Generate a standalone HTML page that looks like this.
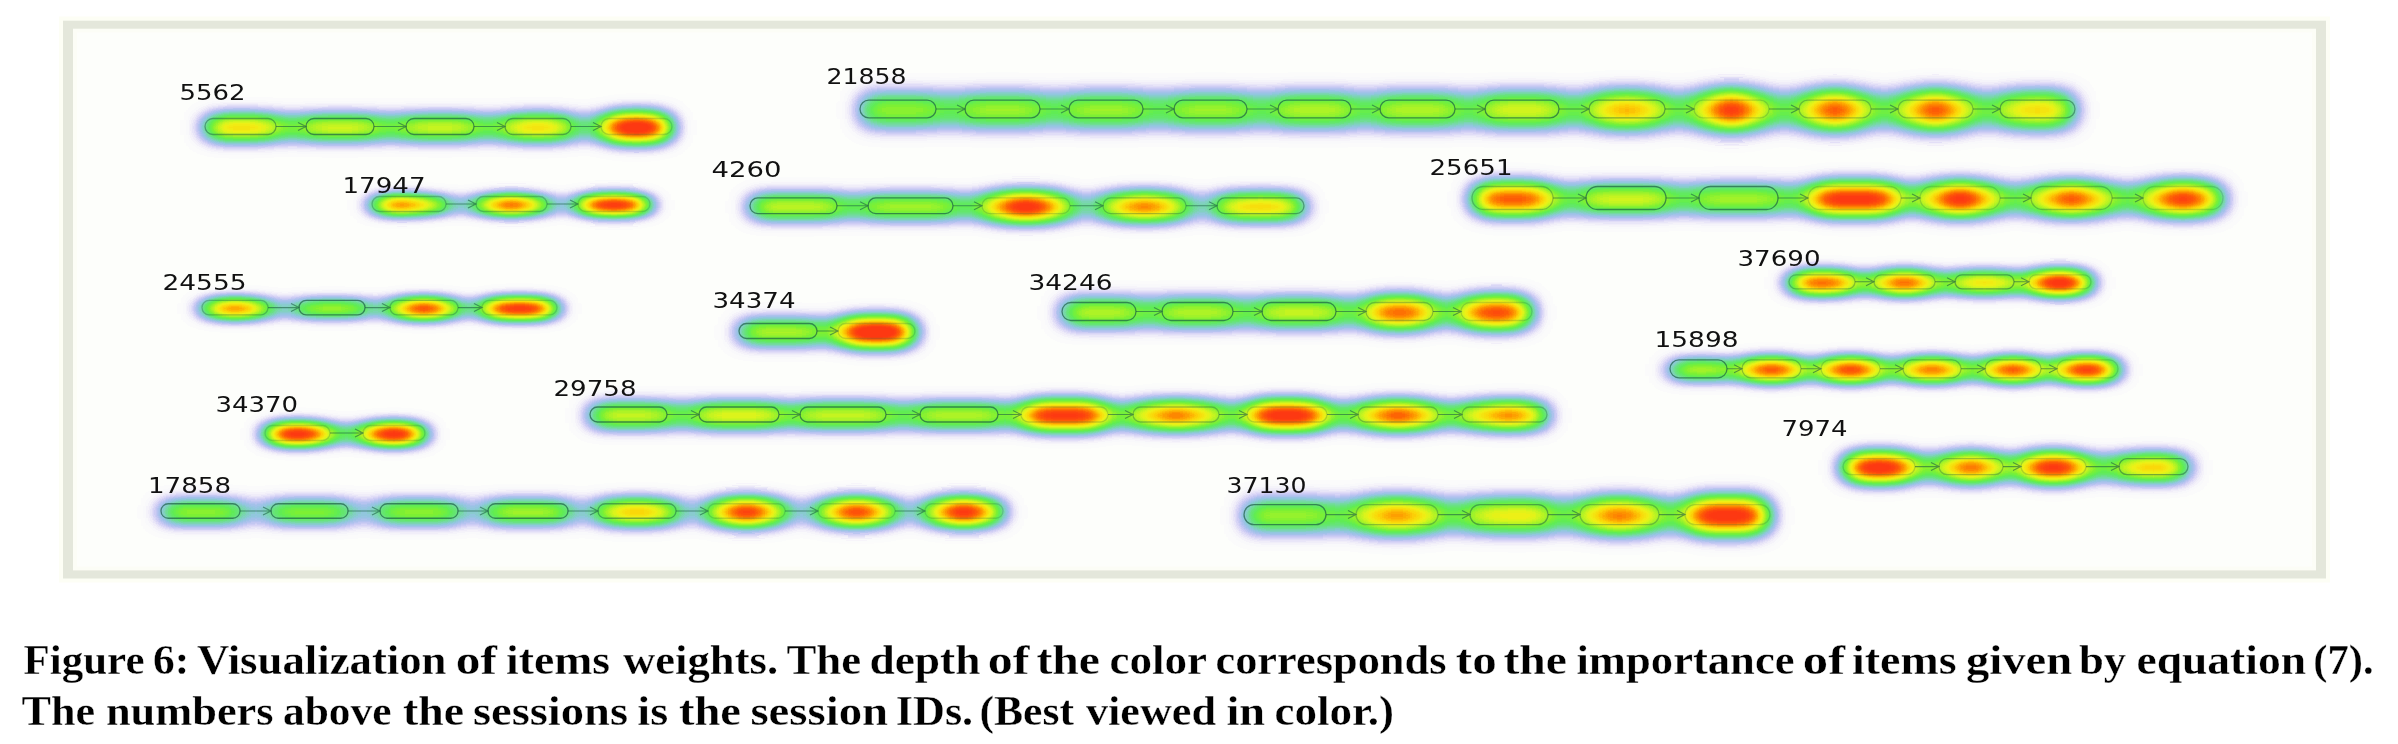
<!DOCTYPE html>
<html><head><meta charset="utf-8"><title>Figure 6</title>
<style>
html,body{margin:0;padding:0;background:#fff;}
body{width:2398px;height:744px;overflow:hidden;position:relative;}
svg{position:absolute;left:0;top:0;display:block;}
.hm{mix-blend-mode:multiply;fill:none;}
.hm path{mix-blend-mode:plus-lighter;}
.lab{font-family:"DejaVu Sans","Liberation Sans",sans-serif;font-size:21.3px;fill:#111;}
.cap{font-family:"Liberation Serif",serif;font-weight:bold;font-size:41.3px;fill:#000;stroke:#fff;stroke-width:0.3px;}
</style></head>
<body>
<svg width="2398" height="744" viewBox="0 0 2398 744">
<defs>
<filter id="h0" filterUnits="userSpaceOnUse" x="145" y="88.0" width="587" height="79.1" color-interpolation-filters="sRGB"><feGaussianBlur stdDeviation="12.00 10.32"/><feComponentTransfer><feFuncR type="table" tableValues="1.000 0.987 0.951 0.889 0.813 0.723 0.641 0.571 0.512 0.461 0.416 0.393 0.381 0.439 0.498 0.596 0.694 0.787 0.878 0.943 0.969 0.994 1.000 1.000 1.000 1.000 1.000 1.000 1.000 1.000 1.000 1.000 1.000 1.000 1.000 1.000 1.000 1.000 1.000 1.000 1.000 1.000 1.000 1.000 1.000 1.000 1.000 1.000 1.000 1.000 1.000 1.000 1.000 1.000 1.000 1.000 1.000 1.000 1.000 1.000 1.000 1.000 1.000 1.000 1.000 1.000 1.000 1.000 1.000 1.000 1.000 1.000 1.000 1.000 1.000 1.000 1.000 1.000 1.000 1.000 1.000 1.000 1.000 1.000 1.000 1.000 1.000 1.000 1.000 1.000 1.000 1.000 1.000 1.000 1.000 1.000 1.000 1.000 1.000 1.000 1.000 1.000 1.000 1.000 1.000 1.000 1.000 1.000 1.000 1.000 1.000 1.000 1.000 1.000 1.000 1.000 1.000 1.000 1.000 1.000 1.000 1.000 1.000 1.000 1.000 1.000 1.000 1.000"/><feFuncG type="table" tableValues="1.000 0.981 0.936 0.869 0.805 0.770 0.763 0.785 0.823 0.857 0.889 0.913 0.934 0.942 0.949 0.954 0.959 0.962 0.964 0.946 0.898 0.850 0.765 0.669 0.573 0.477 0.384 0.317 0.260 0.223 0.220 0.220 0.220 0.220 0.220 0.220 0.220 0.220 0.220 0.220 0.220 0.220 0.220 0.220 0.220 0.220 0.220 0.220 0.220 0.220 0.220 0.220 0.220 0.220 0.220 0.220 0.220 0.220 0.220 0.220 0.220 0.220 0.220 0.220 0.220 0.220 0.220 0.220 0.220 0.220 0.220 0.220 0.220 0.220 0.220 0.220 0.220 0.220 0.220 0.220 0.220 0.220 0.220 0.220 0.220 0.220 0.220 0.220 0.220 0.220 0.220 0.220 0.220 0.220 0.220 0.220 0.220 0.220 0.220 0.220 0.220 0.220 0.220 0.220 0.220 0.220 0.220 0.220 0.220 0.220 0.220 0.220 0.220 0.220 0.220 0.220 0.220 0.220 0.220 0.220 0.220 0.220 0.220 0.220 0.220 0.220 0.220 0.220"/><feFuncB type="table" tableValues="1.000 1.000 0.996 0.987 0.974 0.958 0.929 0.884 0.771 0.650 0.524 0.424 0.332 0.267 0.203 0.176 0.149 0.127 0.106 0.085 0.061 0.037 0.022 0.010 0.001 0.009 0.018 0.041 0.059 0.070 0.071 0.071 0.071 0.071 0.071 0.071 0.071 0.071 0.071 0.071 0.071 0.071 0.071 0.071 0.071 0.071 0.071 0.071 0.071 0.071 0.071 0.071 0.071 0.071 0.071 0.071 0.071 0.071 0.071 0.071 0.071 0.071 0.071 0.071 0.071 0.071 0.071 0.071 0.071 0.071 0.071 0.071 0.071 0.071 0.071 0.071 0.071 0.071 0.071 0.071 0.071 0.071 0.071 0.071 0.071 0.071 0.071 0.071 0.071 0.071 0.071 0.071 0.071 0.071 0.071 0.071 0.071 0.071 0.071 0.071 0.071 0.071 0.071 0.071 0.071 0.071 0.071 0.071 0.071 0.071 0.071 0.071 0.071 0.071 0.071 0.071 0.071 0.071 0.071 0.071 0.071 0.071 0.071 0.071 0.071 0.071 0.071 0.071"/></feComponentTransfer></filter>
<filter id="h1" filterUnits="userSpaceOnUse" x="800" y="61.3" width="1335" height="97.5" color-interpolation-filters="sRGB"><feGaussianBlur stdDeviation="12.00 12.72"/><feComponentTransfer><feFuncR type="table" tableValues="1.000 0.987 0.951 0.889 0.813 0.723 0.641 0.571 0.512 0.461 0.416 0.393 0.381 0.439 0.498 0.596 0.694 0.787 0.878 0.943 0.969 0.994 1.000 1.000 1.000 1.000 1.000 1.000 1.000 1.000 1.000 1.000 1.000 1.000 1.000 1.000 1.000 1.000 1.000 1.000 1.000 1.000 1.000 1.000 1.000 1.000 1.000 1.000 1.000 1.000 1.000 1.000 1.000 1.000 1.000 1.000 1.000 1.000 1.000 1.000 1.000 1.000 1.000 1.000 1.000 1.000 1.000 1.000 1.000 1.000 1.000 1.000 1.000 1.000 1.000 1.000 1.000 1.000 1.000 1.000 1.000 1.000 1.000 1.000 1.000 1.000 1.000 1.000 1.000 1.000 1.000 1.000 1.000 1.000 1.000 1.000 1.000 1.000 1.000 1.000 1.000 1.000 1.000 1.000 1.000 1.000 1.000 1.000 1.000 1.000 1.000 1.000 1.000 1.000 1.000 1.000 1.000 1.000 1.000 1.000 1.000 1.000 1.000 1.000 1.000 1.000 1.000 1.000"/><feFuncG type="table" tableValues="1.000 0.981 0.936 0.869 0.805 0.770 0.763 0.785 0.823 0.857 0.889 0.913 0.934 0.942 0.949 0.954 0.959 0.962 0.964 0.946 0.898 0.850 0.765 0.669 0.573 0.477 0.384 0.317 0.260 0.223 0.220 0.220 0.220 0.220 0.220 0.220 0.220 0.220 0.220 0.220 0.220 0.220 0.220 0.220 0.220 0.220 0.220 0.220 0.220 0.220 0.220 0.220 0.220 0.220 0.220 0.220 0.220 0.220 0.220 0.220 0.220 0.220 0.220 0.220 0.220 0.220 0.220 0.220 0.220 0.220 0.220 0.220 0.220 0.220 0.220 0.220 0.220 0.220 0.220 0.220 0.220 0.220 0.220 0.220 0.220 0.220 0.220 0.220 0.220 0.220 0.220 0.220 0.220 0.220 0.220 0.220 0.220 0.220 0.220 0.220 0.220 0.220 0.220 0.220 0.220 0.220 0.220 0.220 0.220 0.220 0.220 0.220 0.220 0.220 0.220 0.220 0.220 0.220 0.220 0.220 0.220 0.220 0.220 0.220 0.220 0.220 0.220 0.220"/><feFuncB type="table" tableValues="1.000 1.000 0.996 0.987 0.974 0.958 0.929 0.884 0.771 0.650 0.524 0.424 0.332 0.267 0.203 0.176 0.149 0.127 0.106 0.085 0.061 0.037 0.022 0.010 0.001 0.009 0.018 0.041 0.059 0.070 0.071 0.071 0.071 0.071 0.071 0.071 0.071 0.071 0.071 0.071 0.071 0.071 0.071 0.071 0.071 0.071 0.071 0.071 0.071 0.071 0.071 0.071 0.071 0.071 0.071 0.071 0.071 0.071 0.071 0.071 0.071 0.071 0.071 0.071 0.071 0.071 0.071 0.071 0.071 0.071 0.071 0.071 0.071 0.071 0.071 0.071 0.071 0.071 0.071 0.071 0.071 0.071 0.071 0.071 0.071 0.071 0.071 0.071 0.071 0.071 0.071 0.071 0.071 0.071 0.071 0.071 0.071 0.071 0.071 0.071 0.071 0.071 0.071 0.071 0.071 0.071 0.071 0.071 0.071 0.071 0.071 0.071 0.071 0.071 0.071 0.071 0.071 0.071 0.071 0.071 0.071 0.071 0.071 0.071 0.071 0.071 0.071 0.071"/></feComponentTransfer></filter>
<filter id="h2" filterUnits="userSpaceOnUse" x="312" y="177.5" width="398" height="55.2" color-interpolation-filters="sRGB"><feGaussianBlur stdDeviation="12.00 7.20"/><feComponentTransfer><feFuncR type="table" tableValues="1.000 0.987 0.951 0.889 0.813 0.723 0.641 0.571 0.512 0.461 0.416 0.393 0.381 0.439 0.498 0.596 0.694 0.787 0.878 0.943 0.969 0.994 1.000 1.000 1.000 1.000 1.000 1.000 1.000 1.000 1.000 1.000 1.000 1.000 1.000 1.000 1.000 1.000 1.000 1.000 1.000 1.000 1.000 1.000 1.000 1.000 1.000 1.000 1.000 1.000 1.000 1.000 1.000 1.000 1.000 1.000 1.000 1.000 1.000 1.000 1.000 1.000 1.000 1.000 1.000 1.000 1.000 1.000 1.000 1.000 1.000 1.000 1.000 1.000 1.000 1.000 1.000 1.000 1.000 1.000 1.000 1.000 1.000 1.000 1.000 1.000 1.000 1.000 1.000 1.000 1.000 1.000 1.000 1.000 1.000 1.000 1.000 1.000 1.000 1.000 1.000 1.000 1.000 1.000 1.000 1.000 1.000 1.000 1.000 1.000 1.000 1.000 1.000 1.000 1.000 1.000 1.000 1.000 1.000 1.000 1.000 1.000 1.000 1.000 1.000 1.000 1.000 1.000"/><feFuncG type="table" tableValues="1.000 0.981 0.936 0.869 0.805 0.770 0.763 0.785 0.823 0.857 0.889 0.913 0.934 0.942 0.949 0.954 0.959 0.962 0.964 0.946 0.898 0.850 0.765 0.669 0.573 0.477 0.384 0.317 0.260 0.223 0.220 0.220 0.220 0.220 0.220 0.220 0.220 0.220 0.220 0.220 0.220 0.220 0.220 0.220 0.220 0.220 0.220 0.220 0.220 0.220 0.220 0.220 0.220 0.220 0.220 0.220 0.220 0.220 0.220 0.220 0.220 0.220 0.220 0.220 0.220 0.220 0.220 0.220 0.220 0.220 0.220 0.220 0.220 0.220 0.220 0.220 0.220 0.220 0.220 0.220 0.220 0.220 0.220 0.220 0.220 0.220 0.220 0.220 0.220 0.220 0.220 0.220 0.220 0.220 0.220 0.220 0.220 0.220 0.220 0.220 0.220 0.220 0.220 0.220 0.220 0.220 0.220 0.220 0.220 0.220 0.220 0.220 0.220 0.220 0.220 0.220 0.220 0.220 0.220 0.220 0.220 0.220 0.220 0.220 0.220 0.220 0.220 0.220"/><feFuncB type="table" tableValues="1.000 1.000 0.996 0.987 0.974 0.958 0.929 0.884 0.771 0.650 0.524 0.424 0.332 0.267 0.203 0.176 0.149 0.127 0.106 0.085 0.061 0.037 0.022 0.010 0.001 0.009 0.018 0.041 0.059 0.070 0.071 0.071 0.071 0.071 0.071 0.071 0.071 0.071 0.071 0.071 0.071 0.071 0.071 0.071 0.071 0.071 0.071 0.071 0.071 0.071 0.071 0.071 0.071 0.071 0.071 0.071 0.071 0.071 0.071 0.071 0.071 0.071 0.071 0.071 0.071 0.071 0.071 0.071 0.071 0.071 0.071 0.071 0.071 0.071 0.071 0.071 0.071 0.071 0.071 0.071 0.071 0.071 0.071 0.071 0.071 0.071 0.071 0.071 0.071 0.071 0.071 0.071 0.071 0.071 0.071 0.071 0.071 0.071 0.071 0.071 0.071 0.071 0.071 0.071 0.071 0.071 0.071 0.071 0.071 0.071 0.071 0.071 0.071 0.071 0.071 0.071 0.071 0.071 0.071 0.071 0.071 0.071 0.071 0.071 0.071 0.071 0.071 0.071"/></feComponentTransfer></filter>
<filter id="h3" filterUnits="userSpaceOnUse" x="690" y="168.3" width="674" height="77.3" color-interpolation-filters="sRGB"><feGaussianBlur stdDeviation="12.00 10.08"/><feComponentTransfer><feFuncR type="table" tableValues="1.000 0.987 0.951 0.889 0.813 0.723 0.641 0.571 0.512 0.461 0.416 0.393 0.381 0.439 0.498 0.596 0.694 0.787 0.878 0.943 0.969 0.994 1.000 1.000 1.000 1.000 1.000 1.000 1.000 1.000 1.000 1.000 1.000 1.000 1.000 1.000 1.000 1.000 1.000 1.000 1.000 1.000 1.000 1.000 1.000 1.000 1.000 1.000 1.000 1.000 1.000 1.000 1.000 1.000 1.000 1.000 1.000 1.000 1.000 1.000 1.000 1.000 1.000 1.000 1.000 1.000 1.000 1.000 1.000 1.000 1.000 1.000 1.000 1.000 1.000 1.000 1.000 1.000 1.000 1.000 1.000 1.000 1.000 1.000 1.000 1.000 1.000 1.000 1.000 1.000 1.000 1.000 1.000 1.000 1.000 1.000 1.000 1.000 1.000 1.000 1.000 1.000 1.000 1.000 1.000 1.000 1.000 1.000 1.000 1.000 1.000 1.000 1.000 1.000 1.000 1.000 1.000 1.000 1.000 1.000 1.000 1.000 1.000 1.000 1.000 1.000 1.000 1.000"/><feFuncG type="table" tableValues="1.000 0.981 0.936 0.869 0.805 0.770 0.763 0.785 0.823 0.857 0.889 0.913 0.934 0.942 0.949 0.954 0.959 0.962 0.964 0.946 0.898 0.850 0.765 0.669 0.573 0.477 0.384 0.317 0.260 0.223 0.220 0.220 0.220 0.220 0.220 0.220 0.220 0.220 0.220 0.220 0.220 0.220 0.220 0.220 0.220 0.220 0.220 0.220 0.220 0.220 0.220 0.220 0.220 0.220 0.220 0.220 0.220 0.220 0.220 0.220 0.220 0.220 0.220 0.220 0.220 0.220 0.220 0.220 0.220 0.220 0.220 0.220 0.220 0.220 0.220 0.220 0.220 0.220 0.220 0.220 0.220 0.220 0.220 0.220 0.220 0.220 0.220 0.220 0.220 0.220 0.220 0.220 0.220 0.220 0.220 0.220 0.220 0.220 0.220 0.220 0.220 0.220 0.220 0.220 0.220 0.220 0.220 0.220 0.220 0.220 0.220 0.220 0.220 0.220 0.220 0.220 0.220 0.220 0.220 0.220 0.220 0.220 0.220 0.220 0.220 0.220 0.220 0.220"/><feFuncB type="table" tableValues="1.000 1.000 0.996 0.987 0.974 0.958 0.929 0.884 0.771 0.650 0.524 0.424 0.332 0.267 0.203 0.176 0.149 0.127 0.106 0.085 0.061 0.037 0.022 0.010 0.001 0.009 0.018 0.041 0.059 0.070 0.071 0.071 0.071 0.071 0.071 0.071 0.071 0.071 0.071 0.071 0.071 0.071 0.071 0.071 0.071 0.071 0.071 0.071 0.071 0.071 0.071 0.071 0.071 0.071 0.071 0.071 0.071 0.071 0.071 0.071 0.071 0.071 0.071 0.071 0.071 0.071 0.071 0.071 0.071 0.071 0.071 0.071 0.071 0.071 0.071 0.071 0.071 0.071 0.071 0.071 0.071 0.071 0.071 0.071 0.071 0.071 0.071 0.071 0.071 0.071 0.071 0.071 0.071 0.071 0.071 0.071 0.071 0.071 0.071 0.071 0.071 0.071 0.071 0.071 0.071 0.071 0.071 0.071 0.071 0.071 0.071 0.071 0.071 0.071 0.071 0.071 0.071 0.071 0.071 0.071 0.071 0.071 0.071 0.071 0.071 0.071 0.071 0.071"/></feComponentTransfer></filter>
<filter id="h4" filterUnits="userSpaceOnUse" x="1412" y="155.9" width="871" height="86.5" color-interpolation-filters="sRGB"><feGaussianBlur stdDeviation="12.00 11.28"/><feComponentTransfer><feFuncR type="table" tableValues="1.000 0.987 0.951 0.889 0.813 0.723 0.641 0.571 0.512 0.461 0.416 0.393 0.381 0.439 0.498 0.596 0.694 0.787 0.878 0.943 0.969 0.994 1.000 1.000 1.000 1.000 1.000 1.000 1.000 1.000 1.000 1.000 1.000 1.000 1.000 1.000 1.000 1.000 1.000 1.000 1.000 1.000 1.000 1.000 1.000 1.000 1.000 1.000 1.000 1.000 1.000 1.000 1.000 1.000 1.000 1.000 1.000 1.000 1.000 1.000 1.000 1.000 1.000 1.000 1.000 1.000 1.000 1.000 1.000 1.000 1.000 1.000 1.000 1.000 1.000 1.000 1.000 1.000 1.000 1.000 1.000 1.000 1.000 1.000 1.000 1.000 1.000 1.000 1.000 1.000 1.000 1.000 1.000 1.000 1.000 1.000 1.000 1.000 1.000 1.000 1.000 1.000 1.000 1.000 1.000 1.000 1.000 1.000 1.000 1.000 1.000 1.000 1.000 1.000 1.000 1.000 1.000 1.000 1.000 1.000 1.000 1.000 1.000 1.000 1.000 1.000 1.000 1.000"/><feFuncG type="table" tableValues="1.000 0.981 0.936 0.869 0.805 0.770 0.763 0.785 0.823 0.857 0.889 0.913 0.934 0.942 0.949 0.954 0.959 0.962 0.964 0.946 0.898 0.850 0.765 0.669 0.573 0.477 0.384 0.317 0.260 0.223 0.220 0.220 0.220 0.220 0.220 0.220 0.220 0.220 0.220 0.220 0.220 0.220 0.220 0.220 0.220 0.220 0.220 0.220 0.220 0.220 0.220 0.220 0.220 0.220 0.220 0.220 0.220 0.220 0.220 0.220 0.220 0.220 0.220 0.220 0.220 0.220 0.220 0.220 0.220 0.220 0.220 0.220 0.220 0.220 0.220 0.220 0.220 0.220 0.220 0.220 0.220 0.220 0.220 0.220 0.220 0.220 0.220 0.220 0.220 0.220 0.220 0.220 0.220 0.220 0.220 0.220 0.220 0.220 0.220 0.220 0.220 0.220 0.220 0.220 0.220 0.220 0.220 0.220 0.220 0.220 0.220 0.220 0.220 0.220 0.220 0.220 0.220 0.220 0.220 0.220 0.220 0.220 0.220 0.220 0.220 0.220 0.220 0.220"/><feFuncB type="table" tableValues="1.000 1.000 0.996 0.987 0.974 0.958 0.929 0.884 0.771 0.650 0.524 0.424 0.332 0.267 0.203 0.176 0.149 0.127 0.106 0.085 0.061 0.037 0.022 0.010 0.001 0.009 0.018 0.041 0.059 0.070 0.071 0.071 0.071 0.071 0.071 0.071 0.071 0.071 0.071 0.071 0.071 0.071 0.071 0.071 0.071 0.071 0.071 0.071 0.071 0.071 0.071 0.071 0.071 0.071 0.071 0.071 0.071 0.071 0.071 0.071 0.071 0.071 0.071 0.071 0.071 0.071 0.071 0.071 0.071 0.071 0.071 0.071 0.071 0.071 0.071 0.071 0.071 0.071 0.071 0.071 0.071 0.071 0.071 0.071 0.071 0.071 0.071 0.071 0.071 0.071 0.071 0.071 0.071 0.071 0.071 0.071 0.071 0.071 0.071 0.071 0.071 0.071 0.071 0.071 0.071 0.071 0.071 0.071 0.071 0.071 0.071 0.071 0.071 0.071 0.071 0.071 0.071 0.071 0.071 0.071 0.071 0.071 0.071 0.071 0.071 0.071 0.071 0.071"/></feComponentTransfer></filter>
<filter id="h5" filterUnits="userSpaceOnUse" x="142" y="279.3" width="475" height="58.9" color-interpolation-filters="sRGB"><feGaussianBlur stdDeviation="12.00 7.68"/><feComponentTransfer><feFuncR type="table" tableValues="1.000 0.987 0.951 0.889 0.813 0.723 0.641 0.571 0.512 0.461 0.416 0.393 0.381 0.439 0.498 0.596 0.694 0.787 0.878 0.943 0.969 0.994 1.000 1.000 1.000 1.000 1.000 1.000 1.000 1.000 1.000 1.000 1.000 1.000 1.000 1.000 1.000 1.000 1.000 1.000 1.000 1.000 1.000 1.000 1.000 1.000 1.000 1.000 1.000 1.000 1.000 1.000 1.000 1.000 1.000 1.000 1.000 1.000 1.000 1.000 1.000 1.000 1.000 1.000 1.000 1.000 1.000 1.000 1.000 1.000 1.000 1.000 1.000 1.000 1.000 1.000 1.000 1.000 1.000 1.000 1.000 1.000 1.000 1.000 1.000 1.000 1.000 1.000 1.000 1.000 1.000 1.000 1.000 1.000 1.000 1.000 1.000 1.000 1.000 1.000 1.000 1.000 1.000 1.000 1.000 1.000 1.000 1.000 1.000 1.000 1.000 1.000 1.000 1.000 1.000 1.000 1.000 1.000 1.000 1.000 1.000 1.000 1.000 1.000 1.000 1.000 1.000 1.000"/><feFuncG type="table" tableValues="1.000 0.981 0.936 0.869 0.805 0.770 0.763 0.785 0.823 0.857 0.889 0.913 0.934 0.942 0.949 0.954 0.959 0.962 0.964 0.946 0.898 0.850 0.765 0.669 0.573 0.477 0.384 0.317 0.260 0.223 0.220 0.220 0.220 0.220 0.220 0.220 0.220 0.220 0.220 0.220 0.220 0.220 0.220 0.220 0.220 0.220 0.220 0.220 0.220 0.220 0.220 0.220 0.220 0.220 0.220 0.220 0.220 0.220 0.220 0.220 0.220 0.220 0.220 0.220 0.220 0.220 0.220 0.220 0.220 0.220 0.220 0.220 0.220 0.220 0.220 0.220 0.220 0.220 0.220 0.220 0.220 0.220 0.220 0.220 0.220 0.220 0.220 0.220 0.220 0.220 0.220 0.220 0.220 0.220 0.220 0.220 0.220 0.220 0.220 0.220 0.220 0.220 0.220 0.220 0.220 0.220 0.220 0.220 0.220 0.220 0.220 0.220 0.220 0.220 0.220 0.220 0.220 0.220 0.220 0.220 0.220 0.220 0.220 0.220 0.220 0.220 0.220 0.220"/><feFuncB type="table" tableValues="1.000 1.000 0.996 0.987 0.974 0.958 0.929 0.884 0.771 0.650 0.524 0.424 0.332 0.267 0.203 0.176 0.149 0.127 0.106 0.085 0.061 0.037 0.022 0.010 0.001 0.009 0.018 0.041 0.059 0.070 0.071 0.071 0.071 0.071 0.071 0.071 0.071 0.071 0.071 0.071 0.071 0.071 0.071 0.071 0.071 0.071 0.071 0.071 0.071 0.071 0.071 0.071 0.071 0.071 0.071 0.071 0.071 0.071 0.071 0.071 0.071 0.071 0.071 0.071 0.071 0.071 0.071 0.071 0.071 0.071 0.071 0.071 0.071 0.071 0.071 0.071 0.071 0.071 0.071 0.071 0.071 0.071 0.071 0.071 0.071 0.071 0.071 0.071 0.071 0.071 0.071 0.071 0.071 0.071 0.071 0.071 0.071 0.071 0.071 0.071 0.071 0.071 0.071 0.071 0.071 0.071 0.071 0.071 0.071 0.071 0.071 0.071 0.071 0.071 0.071 0.071 0.071 0.071 0.071 0.071 0.071 0.071 0.071 0.071 0.071 0.071 0.071 0.071"/></feComponentTransfer></filter>
<filter id="h6" filterUnits="userSpaceOnUse" x="679" y="292.5" width="296" height="79.1" color-interpolation-filters="sRGB"><feGaussianBlur stdDeviation="12.00 10.32"/><feComponentTransfer><feFuncR type="table" tableValues="1.000 0.987 0.951 0.889 0.813 0.723 0.641 0.571 0.512 0.461 0.416 0.393 0.381 0.439 0.498 0.596 0.694 0.787 0.878 0.943 0.969 0.994 1.000 1.000 1.000 1.000 1.000 1.000 1.000 1.000 1.000 1.000 1.000 1.000 1.000 1.000 1.000 1.000 1.000 1.000 1.000 1.000 1.000 1.000 1.000 1.000 1.000 1.000 1.000 1.000 1.000 1.000 1.000 1.000 1.000 1.000 1.000 1.000 1.000 1.000 1.000 1.000 1.000 1.000 1.000 1.000 1.000 1.000 1.000 1.000 1.000 1.000 1.000 1.000 1.000 1.000 1.000 1.000 1.000 1.000 1.000 1.000 1.000 1.000 1.000 1.000 1.000 1.000 1.000 1.000 1.000 1.000 1.000 1.000 1.000 1.000 1.000 1.000 1.000 1.000 1.000 1.000 1.000 1.000 1.000 1.000 1.000 1.000 1.000 1.000 1.000 1.000 1.000 1.000 1.000 1.000 1.000 1.000 1.000 1.000 1.000 1.000 1.000 1.000 1.000 1.000 1.000 1.000"/><feFuncG type="table" tableValues="1.000 0.981 0.936 0.869 0.805 0.770 0.763 0.785 0.823 0.857 0.889 0.913 0.934 0.942 0.949 0.954 0.959 0.962 0.964 0.946 0.898 0.850 0.765 0.669 0.573 0.477 0.384 0.317 0.260 0.223 0.220 0.220 0.220 0.220 0.220 0.220 0.220 0.220 0.220 0.220 0.220 0.220 0.220 0.220 0.220 0.220 0.220 0.220 0.220 0.220 0.220 0.220 0.220 0.220 0.220 0.220 0.220 0.220 0.220 0.220 0.220 0.220 0.220 0.220 0.220 0.220 0.220 0.220 0.220 0.220 0.220 0.220 0.220 0.220 0.220 0.220 0.220 0.220 0.220 0.220 0.220 0.220 0.220 0.220 0.220 0.220 0.220 0.220 0.220 0.220 0.220 0.220 0.220 0.220 0.220 0.220 0.220 0.220 0.220 0.220 0.220 0.220 0.220 0.220 0.220 0.220 0.220 0.220 0.220 0.220 0.220 0.220 0.220 0.220 0.220 0.220 0.220 0.220 0.220 0.220 0.220 0.220 0.220 0.220 0.220 0.220 0.220 0.220"/><feFuncB type="table" tableValues="1.000 1.000 0.996 0.987 0.974 0.958 0.929 0.884 0.771 0.650 0.524 0.424 0.332 0.267 0.203 0.176 0.149 0.127 0.106 0.085 0.061 0.037 0.022 0.010 0.001 0.009 0.018 0.041 0.059 0.070 0.071 0.071 0.071 0.071 0.071 0.071 0.071 0.071 0.071 0.071 0.071 0.071 0.071 0.071 0.071 0.071 0.071 0.071 0.071 0.071 0.071 0.071 0.071 0.071 0.071 0.071 0.071 0.071 0.071 0.071 0.071 0.071 0.071 0.071 0.071 0.071 0.071 0.071 0.071 0.071 0.071 0.071 0.071 0.071 0.071 0.071 0.071 0.071 0.071 0.071 0.071 0.071 0.071 0.071 0.071 0.071 0.071 0.071 0.071 0.071 0.071 0.071 0.071 0.071 0.071 0.071 0.071 0.071 0.071 0.071 0.071 0.071 0.071 0.071 0.071 0.071 0.071 0.071 0.071 0.071 0.071 0.071 0.071 0.071 0.071 0.071 0.071 0.071 0.071 0.071 0.071 0.071 0.071 0.071 0.071 0.071 0.071 0.071"/></feComponentTransfer></filter>
<filter id="h7" filterUnits="userSpaceOnUse" x="1002" y="270.3" width="590" height="84.6" color-interpolation-filters="sRGB"><feGaussianBlur stdDeviation="12.00 11.04"/><feComponentTransfer><feFuncR type="table" tableValues="1.000 0.987 0.951 0.889 0.813 0.723 0.641 0.571 0.512 0.461 0.416 0.393 0.381 0.439 0.498 0.596 0.694 0.787 0.878 0.943 0.969 0.994 1.000 1.000 1.000 1.000 1.000 1.000 1.000 1.000 1.000 1.000 1.000 1.000 1.000 1.000 1.000 1.000 1.000 1.000 1.000 1.000 1.000 1.000 1.000 1.000 1.000 1.000 1.000 1.000 1.000 1.000 1.000 1.000 1.000 1.000 1.000 1.000 1.000 1.000 1.000 1.000 1.000 1.000 1.000 1.000 1.000 1.000 1.000 1.000 1.000 1.000 1.000 1.000 1.000 1.000 1.000 1.000 1.000 1.000 1.000 1.000 1.000 1.000 1.000 1.000 1.000 1.000 1.000 1.000 1.000 1.000 1.000 1.000 1.000 1.000 1.000 1.000 1.000 1.000 1.000 1.000 1.000 1.000 1.000 1.000 1.000 1.000 1.000 1.000 1.000 1.000 1.000 1.000 1.000 1.000 1.000 1.000 1.000 1.000 1.000 1.000 1.000 1.000 1.000 1.000 1.000 1.000"/><feFuncG type="table" tableValues="1.000 0.981 0.936 0.869 0.805 0.770 0.763 0.785 0.823 0.857 0.889 0.913 0.934 0.942 0.949 0.954 0.959 0.962 0.964 0.946 0.898 0.850 0.765 0.669 0.573 0.477 0.384 0.317 0.260 0.223 0.220 0.220 0.220 0.220 0.220 0.220 0.220 0.220 0.220 0.220 0.220 0.220 0.220 0.220 0.220 0.220 0.220 0.220 0.220 0.220 0.220 0.220 0.220 0.220 0.220 0.220 0.220 0.220 0.220 0.220 0.220 0.220 0.220 0.220 0.220 0.220 0.220 0.220 0.220 0.220 0.220 0.220 0.220 0.220 0.220 0.220 0.220 0.220 0.220 0.220 0.220 0.220 0.220 0.220 0.220 0.220 0.220 0.220 0.220 0.220 0.220 0.220 0.220 0.220 0.220 0.220 0.220 0.220 0.220 0.220 0.220 0.220 0.220 0.220 0.220 0.220 0.220 0.220 0.220 0.220 0.220 0.220 0.220 0.220 0.220 0.220 0.220 0.220 0.220 0.220 0.220 0.220 0.220 0.220 0.220 0.220 0.220 0.220"/><feFuncB type="table" tableValues="1.000 1.000 0.996 0.987 0.974 0.958 0.929 0.884 0.771 0.650 0.524 0.424 0.332 0.267 0.203 0.176 0.149 0.127 0.106 0.085 0.061 0.037 0.022 0.010 0.001 0.009 0.018 0.041 0.059 0.070 0.071 0.071 0.071 0.071 0.071 0.071 0.071 0.071 0.071 0.071 0.071 0.071 0.071 0.071 0.071 0.071 0.071 0.071 0.071 0.071 0.071 0.071 0.071 0.071 0.071 0.071 0.071 0.071 0.071 0.071 0.071 0.071 0.071 0.071 0.071 0.071 0.071 0.071 0.071 0.071 0.071 0.071 0.071 0.071 0.071 0.071 0.071 0.071 0.071 0.071 0.071 0.071 0.071 0.071 0.071 0.071 0.071 0.071 0.071 0.071 0.071 0.071 0.071 0.071 0.071 0.071 0.071 0.071 0.071 0.071 0.071 0.071 0.071 0.071 0.071 0.071 0.071 0.071 0.071 0.071 0.071 0.071 0.071 0.071 0.071 0.071 0.071 0.071 0.071 0.071 0.071 0.071 0.071 0.071 0.071 0.071 0.071 0.071"/></feComponentTransfer></filter>
<filter id="h8" filterUnits="userSpaceOnUse" x="1729" y="249.8" width="422" height="66.2" color-interpolation-filters="sRGB"><feGaussianBlur stdDeviation="12.00 8.64"/><feComponentTransfer><feFuncR type="table" tableValues="1.000 0.987 0.951 0.889 0.813 0.723 0.641 0.571 0.512 0.461 0.416 0.393 0.381 0.439 0.498 0.596 0.694 0.787 0.878 0.943 0.969 0.994 1.000 1.000 1.000 1.000 1.000 1.000 1.000 1.000 1.000 1.000 1.000 1.000 1.000 1.000 1.000 1.000 1.000 1.000 1.000 1.000 1.000 1.000 1.000 1.000 1.000 1.000 1.000 1.000 1.000 1.000 1.000 1.000 1.000 1.000 1.000 1.000 1.000 1.000 1.000 1.000 1.000 1.000 1.000 1.000 1.000 1.000 1.000 1.000 1.000 1.000 1.000 1.000 1.000 1.000 1.000 1.000 1.000 1.000 1.000 1.000 1.000 1.000 1.000 1.000 1.000 1.000 1.000 1.000 1.000 1.000 1.000 1.000 1.000 1.000 1.000 1.000 1.000 1.000 1.000 1.000 1.000 1.000 1.000 1.000 1.000 1.000 1.000 1.000 1.000 1.000 1.000 1.000 1.000 1.000 1.000 1.000 1.000 1.000 1.000 1.000 1.000 1.000 1.000 1.000 1.000 1.000"/><feFuncG type="table" tableValues="1.000 0.981 0.936 0.869 0.805 0.770 0.763 0.785 0.823 0.857 0.889 0.913 0.934 0.942 0.949 0.954 0.959 0.962 0.964 0.946 0.898 0.850 0.765 0.669 0.573 0.477 0.384 0.317 0.260 0.223 0.220 0.220 0.220 0.220 0.220 0.220 0.220 0.220 0.220 0.220 0.220 0.220 0.220 0.220 0.220 0.220 0.220 0.220 0.220 0.220 0.220 0.220 0.220 0.220 0.220 0.220 0.220 0.220 0.220 0.220 0.220 0.220 0.220 0.220 0.220 0.220 0.220 0.220 0.220 0.220 0.220 0.220 0.220 0.220 0.220 0.220 0.220 0.220 0.220 0.220 0.220 0.220 0.220 0.220 0.220 0.220 0.220 0.220 0.220 0.220 0.220 0.220 0.220 0.220 0.220 0.220 0.220 0.220 0.220 0.220 0.220 0.220 0.220 0.220 0.220 0.220 0.220 0.220 0.220 0.220 0.220 0.220 0.220 0.220 0.220 0.220 0.220 0.220 0.220 0.220 0.220 0.220 0.220 0.220 0.220 0.220 0.220 0.220"/><feFuncB type="table" tableValues="1.000 1.000 0.996 0.987 0.974 0.958 0.929 0.884 0.771 0.650 0.524 0.424 0.332 0.267 0.203 0.176 0.149 0.127 0.106 0.085 0.061 0.037 0.022 0.010 0.001 0.009 0.018 0.041 0.059 0.070 0.071 0.071 0.071 0.071 0.071 0.071 0.071 0.071 0.071 0.071 0.071 0.071 0.071 0.071 0.071 0.071 0.071 0.071 0.071 0.071 0.071 0.071 0.071 0.071 0.071 0.071 0.071 0.071 0.071 0.071 0.071 0.071 0.071 0.071 0.071 0.071 0.071 0.071 0.071 0.071 0.071 0.071 0.071 0.071 0.071 0.071 0.071 0.071 0.071 0.071 0.071 0.071 0.071 0.071 0.071 0.071 0.071 0.071 0.071 0.071 0.071 0.071 0.071 0.071 0.071 0.071 0.071 0.071 0.071 0.071 0.071 0.071 0.071 0.071 0.071 0.071 0.071 0.071 0.071 0.071 0.071 0.071 0.071 0.071 0.071 0.071 0.071 0.071 0.071 0.071 0.071 0.071 0.071 0.071 0.071 0.071 0.071 0.071"/></feComponentTransfer></filter>
<filter id="h9" filterUnits="userSpaceOnUse" x="1610" y="336.8" width="568" height="66.2" color-interpolation-filters="sRGB"><feGaussianBlur stdDeviation="12.00 8.64"/><feComponentTransfer><feFuncR type="table" tableValues="1.000 0.987 0.951 0.889 0.813 0.723 0.641 0.571 0.512 0.461 0.416 0.393 0.381 0.439 0.498 0.596 0.694 0.787 0.878 0.943 0.969 0.994 1.000 1.000 1.000 1.000 1.000 1.000 1.000 1.000 1.000 1.000 1.000 1.000 1.000 1.000 1.000 1.000 1.000 1.000 1.000 1.000 1.000 1.000 1.000 1.000 1.000 1.000 1.000 1.000 1.000 1.000 1.000 1.000 1.000 1.000 1.000 1.000 1.000 1.000 1.000 1.000 1.000 1.000 1.000 1.000 1.000 1.000 1.000 1.000 1.000 1.000 1.000 1.000 1.000 1.000 1.000 1.000 1.000 1.000 1.000 1.000 1.000 1.000 1.000 1.000 1.000 1.000 1.000 1.000 1.000 1.000 1.000 1.000 1.000 1.000 1.000 1.000 1.000 1.000 1.000 1.000 1.000 1.000 1.000 1.000 1.000 1.000 1.000 1.000 1.000 1.000 1.000 1.000 1.000 1.000 1.000 1.000 1.000 1.000 1.000 1.000 1.000 1.000 1.000 1.000 1.000 1.000"/><feFuncG type="table" tableValues="1.000 0.981 0.936 0.869 0.805 0.770 0.763 0.785 0.823 0.857 0.889 0.913 0.934 0.942 0.949 0.954 0.959 0.962 0.964 0.946 0.898 0.850 0.765 0.669 0.573 0.477 0.384 0.317 0.260 0.223 0.220 0.220 0.220 0.220 0.220 0.220 0.220 0.220 0.220 0.220 0.220 0.220 0.220 0.220 0.220 0.220 0.220 0.220 0.220 0.220 0.220 0.220 0.220 0.220 0.220 0.220 0.220 0.220 0.220 0.220 0.220 0.220 0.220 0.220 0.220 0.220 0.220 0.220 0.220 0.220 0.220 0.220 0.220 0.220 0.220 0.220 0.220 0.220 0.220 0.220 0.220 0.220 0.220 0.220 0.220 0.220 0.220 0.220 0.220 0.220 0.220 0.220 0.220 0.220 0.220 0.220 0.220 0.220 0.220 0.220 0.220 0.220 0.220 0.220 0.220 0.220 0.220 0.220 0.220 0.220 0.220 0.220 0.220 0.220 0.220 0.220 0.220 0.220 0.220 0.220 0.220 0.220 0.220 0.220 0.220 0.220 0.220 0.220"/><feFuncB type="table" tableValues="1.000 1.000 0.996 0.987 0.974 0.958 0.929 0.884 0.771 0.650 0.524 0.424 0.332 0.267 0.203 0.176 0.149 0.127 0.106 0.085 0.061 0.037 0.022 0.010 0.001 0.009 0.018 0.041 0.059 0.070 0.071 0.071 0.071 0.071 0.071 0.071 0.071 0.071 0.071 0.071 0.071 0.071 0.071 0.071 0.071 0.071 0.071 0.071 0.071 0.071 0.071 0.071 0.071 0.071 0.071 0.071 0.071 0.071 0.071 0.071 0.071 0.071 0.071 0.071 0.071 0.071 0.071 0.071 0.071 0.071 0.071 0.071 0.071 0.071 0.071 0.071 0.071 0.071 0.071 0.071 0.071 0.071 0.071 0.071 0.071 0.071 0.071 0.071 0.071 0.071 0.071 0.071 0.071 0.071 0.071 0.071 0.071 0.071 0.071 0.071 0.071 0.071 0.071 0.071 0.071 0.071 0.071 0.071 0.071 0.071 0.071 0.071 0.071 0.071 0.071 0.071 0.071 0.071 0.071 0.071 0.071 0.071 0.071 0.071 0.071 0.071 0.071 0.071"/></feComponentTransfer></filter>
<filter id="h10" filterUnits="userSpaceOnUse" x="530" y="376.5" width="1077" height="78.2" color-interpolation-filters="sRGB"><feGaussianBlur stdDeviation="12.00 10.20"/><feComponentTransfer><feFuncR type="table" tableValues="1.000 0.987 0.951 0.889 0.813 0.723 0.641 0.571 0.512 0.461 0.416 0.393 0.381 0.439 0.498 0.596 0.694 0.787 0.878 0.943 0.969 0.994 1.000 1.000 1.000 1.000 1.000 1.000 1.000 1.000 1.000 1.000 1.000 1.000 1.000 1.000 1.000 1.000 1.000 1.000 1.000 1.000 1.000 1.000 1.000 1.000 1.000 1.000 1.000 1.000 1.000 1.000 1.000 1.000 1.000 1.000 1.000 1.000 1.000 1.000 1.000 1.000 1.000 1.000 1.000 1.000 1.000 1.000 1.000 1.000 1.000 1.000 1.000 1.000 1.000 1.000 1.000 1.000 1.000 1.000 1.000 1.000 1.000 1.000 1.000 1.000 1.000 1.000 1.000 1.000 1.000 1.000 1.000 1.000 1.000 1.000 1.000 1.000 1.000 1.000 1.000 1.000 1.000 1.000 1.000 1.000 1.000 1.000 1.000 1.000 1.000 1.000 1.000 1.000 1.000 1.000 1.000 1.000 1.000 1.000 1.000 1.000 1.000 1.000 1.000 1.000 1.000 1.000"/><feFuncG type="table" tableValues="1.000 0.981 0.936 0.869 0.805 0.770 0.763 0.785 0.823 0.857 0.889 0.913 0.934 0.942 0.949 0.954 0.959 0.962 0.964 0.946 0.898 0.850 0.765 0.669 0.573 0.477 0.384 0.317 0.260 0.223 0.220 0.220 0.220 0.220 0.220 0.220 0.220 0.220 0.220 0.220 0.220 0.220 0.220 0.220 0.220 0.220 0.220 0.220 0.220 0.220 0.220 0.220 0.220 0.220 0.220 0.220 0.220 0.220 0.220 0.220 0.220 0.220 0.220 0.220 0.220 0.220 0.220 0.220 0.220 0.220 0.220 0.220 0.220 0.220 0.220 0.220 0.220 0.220 0.220 0.220 0.220 0.220 0.220 0.220 0.220 0.220 0.220 0.220 0.220 0.220 0.220 0.220 0.220 0.220 0.220 0.220 0.220 0.220 0.220 0.220 0.220 0.220 0.220 0.220 0.220 0.220 0.220 0.220 0.220 0.220 0.220 0.220 0.220 0.220 0.220 0.220 0.220 0.220 0.220 0.220 0.220 0.220 0.220 0.220 0.220 0.220 0.220 0.220"/><feFuncB type="table" tableValues="1.000 1.000 0.996 0.987 0.974 0.958 0.929 0.884 0.771 0.650 0.524 0.424 0.332 0.267 0.203 0.176 0.149 0.127 0.106 0.085 0.061 0.037 0.022 0.010 0.001 0.009 0.018 0.041 0.059 0.070 0.071 0.071 0.071 0.071 0.071 0.071 0.071 0.071 0.071 0.071 0.071 0.071 0.071 0.071 0.071 0.071 0.071 0.071 0.071 0.071 0.071 0.071 0.071 0.071 0.071 0.071 0.071 0.071 0.071 0.071 0.071 0.071 0.071 0.071 0.071 0.071 0.071 0.071 0.071 0.071 0.071 0.071 0.071 0.071 0.071 0.071 0.071 0.071 0.071 0.071 0.071 0.071 0.071 0.071 0.071 0.071 0.071 0.071 0.071 0.071 0.071 0.071 0.071 0.071 0.071 0.071 0.071 0.071 0.071 0.071 0.071 0.071 0.071 0.071 0.071 0.071 0.071 0.071 0.071 0.071 0.071 0.071 0.071 0.071 0.071 0.071 0.071 0.071 0.071 0.071 0.071 0.071 0.071 0.071 0.071 0.071 0.071 0.071"/></feComponentTransfer></filter>
<filter id="h11" filterUnits="userSpaceOnUse" x="205" y="402.8" width="280" height="62.6" color-interpolation-filters="sRGB"><feGaussianBlur stdDeviation="12.00 8.16"/><feComponentTransfer><feFuncR type="table" tableValues="1.000 0.987 0.951 0.889 0.813 0.723 0.641 0.571 0.512 0.461 0.416 0.393 0.381 0.439 0.498 0.596 0.694 0.787 0.878 0.943 0.969 0.994 1.000 1.000 1.000 1.000 1.000 1.000 1.000 1.000 1.000 1.000 1.000 1.000 1.000 1.000 1.000 1.000 1.000 1.000 1.000 1.000 1.000 1.000 1.000 1.000 1.000 1.000 1.000 1.000 1.000 1.000 1.000 1.000 1.000 1.000 1.000 1.000 1.000 1.000 1.000 1.000 1.000 1.000 1.000 1.000 1.000 1.000 1.000 1.000 1.000 1.000 1.000 1.000 1.000 1.000 1.000 1.000 1.000 1.000 1.000 1.000 1.000 1.000 1.000 1.000 1.000 1.000 1.000 1.000 1.000 1.000 1.000 1.000 1.000 1.000 1.000 1.000 1.000 1.000 1.000 1.000 1.000 1.000 1.000 1.000 1.000 1.000 1.000 1.000 1.000 1.000 1.000 1.000 1.000 1.000 1.000 1.000 1.000 1.000 1.000 1.000 1.000 1.000 1.000 1.000 1.000 1.000"/><feFuncG type="table" tableValues="1.000 0.981 0.936 0.869 0.805 0.770 0.763 0.785 0.823 0.857 0.889 0.913 0.934 0.942 0.949 0.954 0.959 0.962 0.964 0.946 0.898 0.850 0.765 0.669 0.573 0.477 0.384 0.317 0.260 0.223 0.220 0.220 0.220 0.220 0.220 0.220 0.220 0.220 0.220 0.220 0.220 0.220 0.220 0.220 0.220 0.220 0.220 0.220 0.220 0.220 0.220 0.220 0.220 0.220 0.220 0.220 0.220 0.220 0.220 0.220 0.220 0.220 0.220 0.220 0.220 0.220 0.220 0.220 0.220 0.220 0.220 0.220 0.220 0.220 0.220 0.220 0.220 0.220 0.220 0.220 0.220 0.220 0.220 0.220 0.220 0.220 0.220 0.220 0.220 0.220 0.220 0.220 0.220 0.220 0.220 0.220 0.220 0.220 0.220 0.220 0.220 0.220 0.220 0.220 0.220 0.220 0.220 0.220 0.220 0.220 0.220 0.220 0.220 0.220 0.220 0.220 0.220 0.220 0.220 0.220 0.220 0.220 0.220 0.220 0.220 0.220 0.220 0.220"/><feFuncB type="table" tableValues="1.000 1.000 0.996 0.987 0.974 0.958 0.929 0.884 0.771 0.650 0.524 0.424 0.332 0.267 0.203 0.176 0.149 0.127 0.106 0.085 0.061 0.037 0.022 0.010 0.001 0.009 0.018 0.041 0.059 0.070 0.071 0.071 0.071 0.071 0.071 0.071 0.071 0.071 0.071 0.071 0.071 0.071 0.071 0.071 0.071 0.071 0.071 0.071 0.071 0.071 0.071 0.071 0.071 0.071 0.071 0.071 0.071 0.071 0.071 0.071 0.071 0.071 0.071 0.071 0.071 0.071 0.071 0.071 0.071 0.071 0.071 0.071 0.071 0.071 0.071 0.071 0.071 0.071 0.071 0.071 0.071 0.071 0.071 0.071 0.071 0.071 0.071 0.071 0.071 0.071 0.071 0.071 0.071 0.071 0.071 0.071 0.071 0.071 0.071 0.071 0.071 0.071 0.071 0.071 0.071 0.071 0.071 0.071 0.071 0.071 0.071 0.071 0.071 0.071 0.071 0.071 0.071 0.071 0.071 0.071 0.071 0.071 0.071 0.071 0.071 0.071 0.071 0.071"/></feComponentTransfer></filter>
<filter id="h12" filterUnits="userSpaceOnUse" x="1783" y="428.1" width="465" height="79.1" color-interpolation-filters="sRGB"><feGaussianBlur stdDeviation="12.00 10.32"/><feComponentTransfer><feFuncR type="table" tableValues="1.000 0.987 0.951 0.889 0.813 0.723 0.641 0.571 0.512 0.461 0.416 0.393 0.381 0.439 0.498 0.596 0.694 0.787 0.878 0.943 0.969 0.994 1.000 1.000 1.000 1.000 1.000 1.000 1.000 1.000 1.000 1.000 1.000 1.000 1.000 1.000 1.000 1.000 1.000 1.000 1.000 1.000 1.000 1.000 1.000 1.000 1.000 1.000 1.000 1.000 1.000 1.000 1.000 1.000 1.000 1.000 1.000 1.000 1.000 1.000 1.000 1.000 1.000 1.000 1.000 1.000 1.000 1.000 1.000 1.000 1.000 1.000 1.000 1.000 1.000 1.000 1.000 1.000 1.000 1.000 1.000 1.000 1.000 1.000 1.000 1.000 1.000 1.000 1.000 1.000 1.000 1.000 1.000 1.000 1.000 1.000 1.000 1.000 1.000 1.000 1.000 1.000 1.000 1.000 1.000 1.000 1.000 1.000 1.000 1.000 1.000 1.000 1.000 1.000 1.000 1.000 1.000 1.000 1.000 1.000 1.000 1.000 1.000 1.000 1.000 1.000 1.000 1.000"/><feFuncG type="table" tableValues="1.000 0.981 0.936 0.869 0.805 0.770 0.763 0.785 0.823 0.857 0.889 0.913 0.934 0.942 0.949 0.954 0.959 0.962 0.964 0.946 0.898 0.850 0.765 0.669 0.573 0.477 0.384 0.317 0.260 0.223 0.220 0.220 0.220 0.220 0.220 0.220 0.220 0.220 0.220 0.220 0.220 0.220 0.220 0.220 0.220 0.220 0.220 0.220 0.220 0.220 0.220 0.220 0.220 0.220 0.220 0.220 0.220 0.220 0.220 0.220 0.220 0.220 0.220 0.220 0.220 0.220 0.220 0.220 0.220 0.220 0.220 0.220 0.220 0.220 0.220 0.220 0.220 0.220 0.220 0.220 0.220 0.220 0.220 0.220 0.220 0.220 0.220 0.220 0.220 0.220 0.220 0.220 0.220 0.220 0.220 0.220 0.220 0.220 0.220 0.220 0.220 0.220 0.220 0.220 0.220 0.220 0.220 0.220 0.220 0.220 0.220 0.220 0.220 0.220 0.220 0.220 0.220 0.220 0.220 0.220 0.220 0.220 0.220 0.220 0.220 0.220 0.220 0.220"/><feFuncB type="table" tableValues="1.000 1.000 0.996 0.987 0.974 0.958 0.929 0.884 0.771 0.650 0.524 0.424 0.332 0.267 0.203 0.176 0.149 0.127 0.106 0.085 0.061 0.037 0.022 0.010 0.001 0.009 0.018 0.041 0.059 0.070 0.071 0.071 0.071 0.071 0.071 0.071 0.071 0.071 0.071 0.071 0.071 0.071 0.071 0.071 0.071 0.071 0.071 0.071 0.071 0.071 0.071 0.071 0.071 0.071 0.071 0.071 0.071 0.071 0.071 0.071 0.071 0.071 0.071 0.071 0.071 0.071 0.071 0.071 0.071 0.071 0.071 0.071 0.071 0.071 0.071 0.071 0.071 0.071 0.071 0.071 0.071 0.071 0.071 0.071 0.071 0.071 0.071 0.071 0.071 0.071 0.071 0.071 0.071 0.071 0.071 0.071 0.071 0.071 0.071 0.071 0.071 0.071 0.071 0.071 0.071 0.071 0.071 0.071 0.071 0.071 0.071 0.071 0.071 0.071 0.071 0.071 0.071 0.071 0.071 0.071 0.071 0.071 0.071 0.071 0.071 0.071 0.071 0.071"/></feComponentTransfer></filter>
<filter id="h13" filterUnits="userSpaceOnUse" x="101" y="476.2" width="962" height="71.8" color-interpolation-filters="sRGB"><feGaussianBlur stdDeviation="12.00 9.36"/><feComponentTransfer><feFuncR type="table" tableValues="1.000 0.987 0.951 0.889 0.813 0.723 0.641 0.571 0.512 0.461 0.416 0.393 0.381 0.439 0.498 0.596 0.694 0.787 0.878 0.943 0.969 0.994 1.000 1.000 1.000 1.000 1.000 1.000 1.000 1.000 1.000 1.000 1.000 1.000 1.000 1.000 1.000 1.000 1.000 1.000 1.000 1.000 1.000 1.000 1.000 1.000 1.000 1.000 1.000 1.000 1.000 1.000 1.000 1.000 1.000 1.000 1.000 1.000 1.000 1.000 1.000 1.000 1.000 1.000 1.000 1.000 1.000 1.000 1.000 1.000 1.000 1.000 1.000 1.000 1.000 1.000 1.000 1.000 1.000 1.000 1.000 1.000 1.000 1.000 1.000 1.000 1.000 1.000 1.000 1.000 1.000 1.000 1.000 1.000 1.000 1.000 1.000 1.000 1.000 1.000 1.000 1.000 1.000 1.000 1.000 1.000 1.000 1.000 1.000 1.000 1.000 1.000 1.000 1.000 1.000 1.000 1.000 1.000 1.000 1.000 1.000 1.000 1.000 1.000 1.000 1.000 1.000 1.000"/><feFuncG type="table" tableValues="1.000 0.981 0.936 0.869 0.805 0.770 0.763 0.785 0.823 0.857 0.889 0.913 0.934 0.942 0.949 0.954 0.959 0.962 0.964 0.946 0.898 0.850 0.765 0.669 0.573 0.477 0.384 0.317 0.260 0.223 0.220 0.220 0.220 0.220 0.220 0.220 0.220 0.220 0.220 0.220 0.220 0.220 0.220 0.220 0.220 0.220 0.220 0.220 0.220 0.220 0.220 0.220 0.220 0.220 0.220 0.220 0.220 0.220 0.220 0.220 0.220 0.220 0.220 0.220 0.220 0.220 0.220 0.220 0.220 0.220 0.220 0.220 0.220 0.220 0.220 0.220 0.220 0.220 0.220 0.220 0.220 0.220 0.220 0.220 0.220 0.220 0.220 0.220 0.220 0.220 0.220 0.220 0.220 0.220 0.220 0.220 0.220 0.220 0.220 0.220 0.220 0.220 0.220 0.220 0.220 0.220 0.220 0.220 0.220 0.220 0.220 0.220 0.220 0.220 0.220 0.220 0.220 0.220 0.220 0.220 0.220 0.220 0.220 0.220 0.220 0.220 0.220 0.220"/><feFuncB type="table" tableValues="1.000 1.000 0.996 0.987 0.974 0.958 0.929 0.884 0.771 0.650 0.524 0.424 0.332 0.267 0.203 0.176 0.149 0.127 0.106 0.085 0.061 0.037 0.022 0.010 0.001 0.009 0.018 0.041 0.059 0.070 0.071 0.071 0.071 0.071 0.071 0.071 0.071 0.071 0.071 0.071 0.071 0.071 0.071 0.071 0.071 0.071 0.071 0.071 0.071 0.071 0.071 0.071 0.071 0.071 0.071 0.071 0.071 0.071 0.071 0.071 0.071 0.071 0.071 0.071 0.071 0.071 0.071 0.071 0.071 0.071 0.071 0.071 0.071 0.071 0.071 0.071 0.071 0.071 0.071 0.071 0.071 0.071 0.071 0.071 0.071 0.071 0.071 0.071 0.071 0.071 0.071 0.071 0.071 0.071 0.071 0.071 0.071 0.071 0.071 0.071 0.071 0.071 0.071 0.071 0.071 0.071 0.071 0.071 0.071 0.071 0.071 0.071 0.071 0.071 0.071 0.071 0.071 0.071 0.071 0.071 0.071 0.071 0.071 0.071 0.071 0.071 0.071 0.071"/></feComponentTransfer></filter>
<filter id="h14" filterUnits="userSpaceOnUse" x="1184" y="467.9" width="646" height="95.7" color-interpolation-filters="sRGB"><feGaussianBlur stdDeviation="12.00 12.48"/><feComponentTransfer><feFuncR type="table" tableValues="1.000 0.987 0.951 0.889 0.813 0.723 0.641 0.571 0.512 0.461 0.416 0.393 0.381 0.439 0.498 0.596 0.694 0.787 0.878 0.943 0.969 0.994 1.000 1.000 1.000 1.000 1.000 1.000 1.000 1.000 1.000 1.000 1.000 1.000 1.000 1.000 1.000 1.000 1.000 1.000 1.000 1.000 1.000 1.000 1.000 1.000 1.000 1.000 1.000 1.000 1.000 1.000 1.000 1.000 1.000 1.000 1.000 1.000 1.000 1.000 1.000 1.000 1.000 1.000 1.000 1.000 1.000 1.000 1.000 1.000 1.000 1.000 1.000 1.000 1.000 1.000 1.000 1.000 1.000 1.000 1.000 1.000 1.000 1.000 1.000 1.000 1.000 1.000 1.000 1.000 1.000 1.000 1.000 1.000 1.000 1.000 1.000 1.000 1.000 1.000 1.000 1.000 1.000 1.000 1.000 1.000 1.000 1.000 1.000 1.000 1.000 1.000 1.000 1.000 1.000 1.000 1.000 1.000 1.000 1.000 1.000 1.000 1.000 1.000 1.000 1.000 1.000 1.000"/><feFuncG type="table" tableValues="1.000 0.981 0.936 0.869 0.805 0.770 0.763 0.785 0.823 0.857 0.889 0.913 0.934 0.942 0.949 0.954 0.959 0.962 0.964 0.946 0.898 0.850 0.765 0.669 0.573 0.477 0.384 0.317 0.260 0.223 0.220 0.220 0.220 0.220 0.220 0.220 0.220 0.220 0.220 0.220 0.220 0.220 0.220 0.220 0.220 0.220 0.220 0.220 0.220 0.220 0.220 0.220 0.220 0.220 0.220 0.220 0.220 0.220 0.220 0.220 0.220 0.220 0.220 0.220 0.220 0.220 0.220 0.220 0.220 0.220 0.220 0.220 0.220 0.220 0.220 0.220 0.220 0.220 0.220 0.220 0.220 0.220 0.220 0.220 0.220 0.220 0.220 0.220 0.220 0.220 0.220 0.220 0.220 0.220 0.220 0.220 0.220 0.220 0.220 0.220 0.220 0.220 0.220 0.220 0.220 0.220 0.220 0.220 0.220 0.220 0.220 0.220 0.220 0.220 0.220 0.220 0.220 0.220 0.220 0.220 0.220 0.220 0.220 0.220 0.220 0.220 0.220 0.220"/><feFuncB type="table" tableValues="1.000 1.000 0.996 0.987 0.974 0.958 0.929 0.884 0.771 0.650 0.524 0.424 0.332 0.267 0.203 0.176 0.149 0.127 0.106 0.085 0.061 0.037 0.022 0.010 0.001 0.009 0.018 0.041 0.059 0.070 0.071 0.071 0.071 0.071 0.071 0.071 0.071 0.071 0.071 0.071 0.071 0.071 0.071 0.071 0.071 0.071 0.071 0.071 0.071 0.071 0.071 0.071 0.071 0.071 0.071 0.071 0.071 0.071 0.071 0.071 0.071 0.071 0.071 0.071 0.071 0.071 0.071 0.071 0.071 0.071 0.071 0.071 0.071 0.071 0.071 0.071 0.071 0.071 0.071 0.071 0.071 0.071 0.071 0.071 0.071 0.071 0.071 0.071 0.071 0.071 0.071 0.071 0.071 0.071 0.071 0.071 0.071 0.071 0.071 0.071 0.071 0.071 0.071 0.071 0.071 0.071 0.071 0.071 0.071 0.071 0.071 0.071 0.071 0.071 0.071 0.071 0.071 0.071 0.071 0.071 0.071 0.071 0.071 0.071 0.071 0.071 0.071 0.071"/></feComponentTransfer></filter>
</defs>
<rect x="0" y="0" width="2398" height="744" fill="#fff"/>
<rect x="59" y="16.5" width="2271" height="566" fill="#fdfef5"/>
<rect x="63" y="20.7" width="2263" height="557.8" fill="#e4e7db"/>
<rect x="73" y="28.7" width="2243" height="541.7" fill="#fcfdf6"/>
<rect x="77" y="32.5" width="2235" height="534" fill="#fdfefb"/>
<g filter="url(#h0)" class="hm" stroke-width="17.20"><rect x="145" y="88.0" width="587" height="79.1" fill="#000" stroke="none"/><path d="M275 127.60H307" stroke="rgb(41,41,41)"/><path d="M373 127.60H407" stroke="rgb(41,41,41)"/><path d="M473 127.60H506" stroke="rgb(39,39,39)"/><path d="M570 127.60H602" stroke="rgb(29,29,29)"/><path d="M206 127.60H275" stroke="rgb(59,59,59)"/><path d="M215.0 127.60H266.0" stroke="rgb(2,2,2)" stroke-width="34.40"/><path d="M212.0 127.60H269.0" stroke="rgb(3,3,3)"/><path d="M307 127.60H373" stroke="rgb(56,56,56)"/><path d="M407 127.60H473" stroke="rgb(55,55,55)"/><path d="M506 127.60H570" stroke="rgb(59,59,59)"/><path d="M515.0 127.60H561.0" stroke="rgb(2,2,2)" stroke-width="34.40"/><path d="M524.0 127.60H552.0" stroke="rgb(4,4,4)"/><path d="M602 127.60H671" stroke="rgb(59,59,59)"/><path d="M611.0 127.60H662.0" stroke="rgb(14,14,14)" stroke-width="34.40"/><path d="M608.0 127.60H665.0" stroke="rgb(20,20,20)"/></g>
<g filter="url(#h1)" class="hm" stroke-width="21.20"><rect x="800" y="61.3" width="1335" height="97.5" fill="#000" stroke="none"/><path d="M935 110.10H966" stroke="rgb(39,39,39)"/><path d="M1039 110.10H1070" stroke="rgb(39,39,39)"/><path d="M1142 110.10H1175" stroke="rgb(39,39,39)"/><path d="M1246 110.10H1279" stroke="rgb(39,39,39)"/><path d="M1350 110.10H1381" stroke="rgb(39,39,39)"/><path d="M1454 110.10H1486" stroke="rgb(39,39,39)"/><path d="M1558 110.10H1590" stroke="rgb(39,39,39)"/><path d="M1664 110.10H1695" stroke="rgb(39,39,39)"/><path d="M1768 110.10H1800" stroke="rgb(39,39,39)"/><path d="M1870 110.10H1899" stroke="rgb(39,39,39)"/><path d="M1972 110.10H2001" stroke="rgb(39,39,39)"/><path d="M861 110.10H935" stroke="rgb(49,49,49)"/><path d="M966 110.10H1039" stroke="rgb(51,51,51)"/><path d="M1070 110.10H1142" stroke="rgb(51,51,51)"/><path d="M1175 110.10H1246" stroke="rgb(51,51,51)"/><path d="M1279 110.10H1350" stroke="rgb(54,54,54)"/><path d="M1381 110.10H1454" stroke="rgb(54,54,54)"/><path d="M1486 110.10H1558" stroke="rgb(59,59,59)"/><path d="M1590 110.10H1664" stroke="rgb(59,59,59)"/><path d="M1599.0 110.10H1655.0" stroke="rgb(5,5,5)" stroke-width="42.40"/><path d="M1613.0 110.10H1641.0" stroke="rgb(10,10,10)"/><path d="M1695 110.10H1768" stroke="rgb(59,59,59)"/><path d="M1704.0 110.10H1759.0" stroke="rgb(12,12,12)" stroke-width="42.40"/><path d="M1723.5 110.10H1739.5" stroke="rgb(36,36,36)"/><path d="M1800 110.10H1870" stroke="rgb(59,59,59)"/><path d="M1809.0 110.10H1861.0" stroke="rgb(10,10,10)" stroke-width="42.40"/><path d="M1827.0 110.10H1843.0" stroke="rgb(28,28,28)"/><path d="M1899 110.10H1972" stroke="rgb(59,59,59)"/><path d="M1908.0 110.10H1963.0" stroke="rgb(10,10,10)" stroke-width="42.40"/><path d="M1927.5 110.10H1943.5" stroke="rgb(29,29,29)"/><path d="M2001 110.10H2074" stroke="rgb(59,59,59)"/><path d="M2010.0 110.10H2065.0" stroke="rgb(3,3,3)" stroke-width="42.40"/><path d="M2023.5 110.10H2051.5" stroke="rgb(6,6,6)"/></g>
<g filter="url(#h2)" class="hm" stroke-width="12.00"><rect x="312" y="177.5" width="398" height="55.2" fill="#000" stroke="none"/><path d="M445 205.10H477" stroke="rgb(20,20,20)"/><path d="M546 205.10H579" stroke="rgb(18,18,18)"/><path d="M373 205.10H445" stroke="rgb(59,59,59)"/><path d="M374.0 205.10H428.0" stroke="rgb(7,7,7)" stroke-width="24.00"/><path d="M393.0 205.10H409.0" stroke="rgb(22,22,22)"/><path d="M477 205.10H546" stroke="rgb(59,59,59)"/><path d="M486.0 205.10H537.0" stroke="rgb(9,9,9)" stroke-width="24.00"/><path d="M503.5 205.10H519.5" stroke="rgb(26,26,26)"/><path d="M579 205.10H649" stroke="rgb(59,59,59)"/><path d="M588.0 205.10H640.0" stroke="rgb(13,13,13)" stroke-width="24.00"/><path d="M585.0 205.10H643.0" stroke="rgb(20,20,20)"/></g>
<g filter="url(#h3)" class="hm" stroke-width="16.80"><rect x="690" y="168.3" width="674" height="77.3" fill="#000" stroke="none"/><path d="M836 206.90H869" stroke="rgb(37,37,37)"/><path d="M952 206.90H983" stroke="rgb(35,35,35)"/><path d="M1069 206.90H1104" stroke="rgb(26,26,26)"/><path d="M1185 206.90H1218" stroke="rgb(22,22,22)"/><path d="M751 206.90H836" stroke="rgb(55,55,55)"/><path d="M869 206.90H952" stroke="rgb(51,51,51)"/><path d="M983 206.90H1069" stroke="rgb(59,59,59)"/><path d="M992.0 206.90H1060.0" stroke="rgb(13,13,13)" stroke-width="33.60"/><path d="M1012.0 206.90H1040.0" stroke="rgb(26,26,26)"/><path d="M1104 206.90H1185" stroke="rgb(59,59,59)"/><path d="M1113.0 206.90H1176.0" stroke="rgb(7,7,7)" stroke-width="33.60"/><path d="M1136.5 206.90H1152.5" stroke="rgb(22,22,22)"/><path d="M1218 206.90H1303" stroke="rgb(59,59,59)"/><path d="M1227.0 206.90H1294.0" stroke="rgb(3,3,3)" stroke-width="33.60"/><path d="M1246.5 206.90H1274.5" stroke="rgb(6,6,6)"/></g>
<g filter="url(#h4)" class="hm" stroke-width="18.80"><rect x="1412" y="155.9" width="871" height="86.5" fill="#000" stroke="none"/><path d="M1552 199.10H1587" stroke="rgb(39,39,39)"/><path d="M1665 199.10H1700" stroke="rgb(39,39,39)"/><path d="M1777 199.10H1809" stroke="rgb(39,39,39)"/><path d="M1900 199.10H1921" stroke="rgb(39,39,39)"/><path d="M1999 199.10H2032" stroke="rgb(39,39,39)"/><path d="M2111 199.10H2144" stroke="rgb(39,39,39)"/><path d="M1473 199.10H1552" stroke="rgb(59,59,59)"/><path d="M1482.0 199.10H1543.0" stroke="rgb(9,9,9)" stroke-width="37.60"/><path d="M1479.0 199.10H1546.0" stroke="rgb(14,14,14)"/><path d="M1587 199.10H1665" stroke="rgb(57,57,57)"/><path d="M1700 199.10H1777" stroke="rgb(51,51,51)"/><path d="M1809 199.10H1900" stroke="rgb(59,59,59)"/><path d="M1818.0 199.10H1891.0" stroke="rgb(12,12,12)" stroke-width="37.60"/><path d="M1815.0 199.10H1894.0" stroke="rgb(19,19,19)"/><path d="M1921 199.10H1999" stroke="rgb(59,59,59)"/><path d="M1930.0 199.10H1990.0" stroke="rgb(12,12,12)" stroke-width="37.60"/><path d="M1952.0 199.10H1968.0" stroke="rgb(37,37,37)"/><path d="M2032 199.10H2111" stroke="rgb(59,59,59)"/><path d="M2041.0 199.10H2102.0" stroke="rgb(9,9,9)" stroke-width="37.60"/><path d="M2063.5 199.10H2079.5" stroke="rgb(28,28,28)"/><path d="M2144 199.10H2222" stroke="rgb(59,59,59)"/><path d="M2153.0 199.10H2213.0" stroke="rgb(11,11,11)" stroke-width="37.60"/><path d="M2169.0 199.10H2197.0" stroke="rgb(21,21,21)"/></g>
<g filter="url(#h5)" class="hm" stroke-width="12.80"><rect x="142" y="279.3" width="475" height="58.9" fill="#000" stroke="none"/><path d="M267 308.70H300" stroke="rgb(22,22,22)"/><path d="M364 308.70H391" stroke="rgb(22,22,22)"/><path d="M457 308.70H483" stroke="rgb(20,20,20)"/><path d="M203 308.70H267" stroke="rgb(59,59,59)"/><path d="M212.0 308.70H258.0" stroke="rgb(6,6,6)" stroke-width="25.60"/><path d="M227.0 308.70H243.0" stroke="rgb(17,17,17)"/><path d="M300 308.70H364" stroke="rgb(49,49,49)"/><path d="M391 308.70H457" stroke="rgb(59,59,59)"/><path d="M400.0 308.70H448.0" stroke="rgb(10,10,10)" stroke-width="25.60"/><path d="M416.0 308.70H432.0" stroke="rgb(28,28,28)"/><path d="M483 308.70H556" stroke="rgb(59,59,59)"/><path d="M492.0 308.70H547.0" stroke="rgb(12,12,12)" stroke-width="25.60"/><path d="M489.0 308.70H550.0" stroke="rgb(17,17,17)"/></g>
<g filter="url(#h6)" class="hm" stroke-width="17.20"><rect x="679" y="292.5" width="296" height="79.1" fill="#000" stroke="none"/><path d="M816 332.10H839" stroke="rgb(39,39,39)"/><path d="M740 332.10H816" stroke="rgb(51,51,51)"/><path d="M839 332.10H914" stroke="rgb(59,59,59)"/><path d="M848.0 332.10H905.0" stroke="rgb(14,14,14)" stroke-width="34.40"/><path d="M845.0 332.10H908.0" stroke="rgb(22,22,22)"/></g>
<g filter="url(#h7)" class="hm" stroke-width="18.40"><rect x="1002" y="270.3" width="590" height="84.6" fill="#000" stroke="none"/><path d="M1135 312.60H1163" stroke="rgb(39,39,39)"/><path d="M1232 312.60H1263" stroke="rgb(39,39,39)"/><path d="M1335 312.60H1367" stroke="rgb(39,39,39)"/><path d="M1432 312.60H1462" stroke="rgb(39,39,39)"/><path d="M1063 312.60H1135" stroke="rgb(54,54,54)"/><path d="M1163 312.60H1232" stroke="rgb(54,54,54)"/><path d="M1263 312.60H1335" stroke="rgb(57,57,57)"/><path d="M1367 312.60H1432" stroke="rgb(59,59,59)"/><path d="M1376.0 312.60H1423.0" stroke="rgb(9,9,9)" stroke-width="36.80"/><path d="M1373.0 312.60H1426.0" stroke="rgb(14,14,14)"/><path d="M1462 312.60H1531" stroke="rgb(59,59,59)"/><path d="M1471.0 312.60H1522.0" stroke="rgb(11,11,11)" stroke-width="36.80"/><path d="M1468.0 312.60H1525.0" stroke="rgb(16,16,16)"/></g>
<g filter="url(#h8)" class="hm" stroke-width="14.40"><rect x="1729" y="249.8" width="422" height="66.2" fill="#000" stroke="none"/><path d="M1854 282.90H1875" stroke="rgb(39,39,39)"/><path d="M1934 282.90H1956" stroke="rgb(39,39,39)"/><path d="M2013 282.90H2030" stroke="rgb(39,39,39)"/><path d="M1790 282.90H1854" stroke="rgb(59,59,59)"/><path d="M1799.0 282.90H1845.0" stroke="rgb(9,9,9)" stroke-width="28.80"/><path d="M1796.0 282.90H1848.0" stroke="rgb(13,13,13)"/><path d="M1875 282.90H1934" stroke="rgb(60,60,60)"/><path d="M1884.0 282.90H1925.0" stroke="rgb(9,9,9)" stroke-width="28.80"/><path d="M1890.5 282.90H1918.5" stroke="rgb(16,16,16)"/><path d="M1956 282.90H2013" stroke="rgb(60,60,60)"/><path d="M1965.0 282.90H2004.0" stroke="rgb(2,2,2)" stroke-width="28.80"/><path d="M1962.0 282.90H2007.0" stroke="rgb(3,3,3)"/><path d="M2030 282.90H2090" stroke="rgb(60,60,60)"/><path d="M2039.0 282.90H2081.0" stroke="rgb(14,14,14)" stroke-width="28.80"/><path d="M2036.0 282.90H2084.0" stroke="rgb(20,20,20)"/></g>
<g filter="url(#h9)" class="hm" stroke-width="14.40"><rect x="1610" y="336.8" width="568" height="66.2" fill="#000" stroke="none"/><path d="M1726 369.90H1743" stroke="rgb(39,39,39)"/><path d="M1800 369.90H1822" stroke="rgb(39,39,39)"/><path d="M1879 369.90H1904" stroke="rgb(39,39,39)"/><path d="M1960 369.90H1986" stroke="rgb(39,39,39)"/><path d="M2040 369.90H2058" stroke="rgb(39,39,39)"/><path d="M1671 369.90H1726" stroke="rgb(52,52,52)"/><path d="M1743 369.90H1800" stroke="rgb(60,60,60)"/><path d="M1752.0 369.90H1791.0" stroke="rgb(10,10,10)" stroke-width="28.80"/><path d="M1749.0 369.90H1794.0" stroke="rgb(15,15,15)"/><path d="M1822 369.90H1879" stroke="rgb(60,60,60)"/><path d="M1831.0 369.90H1870.0" stroke="rgb(11,11,11)" stroke-width="28.80"/><path d="M1828.0 369.90H1873.0" stroke="rgb(16,16,16)"/><path d="M1904 369.90H1960" stroke="rgb(60,60,60)"/><path d="M1913.0 369.90H1951.0" stroke="rgb(8,8,8)" stroke-width="28.80"/><path d="M1910.0 369.90H1954.0" stroke="rgb(12,12,12)"/><path d="M1986 369.90H2040" stroke="rgb(60,60,60)"/><path d="M1995.0 369.90H2031.0" stroke="rgb(10,10,10)" stroke-width="28.80"/><path d="M1992.0 369.90H2034.0" stroke="rgb(15,15,15)"/><path d="M2058 369.90H2117" stroke="rgb(60,60,60)"/><path d="M2067.0 369.90H2108.0" stroke="rgb(12,12,12)" stroke-width="28.80"/><path d="M2064.0 369.90H2111.0" stroke="rgb(17,17,17)"/></g>
<g filter="url(#h10)" class="hm" stroke-width="17.00"><rect x="530" y="376.5" width="1077" height="78.2" fill="#000" stroke="none"/><path d="M666 415.60H700" stroke="rgb(39,39,39)"/><path d="M778 415.60H801" stroke="rgb(39,39,39)"/><path d="M885 415.60H921" stroke="rgb(39,39,39)"/><path d="M997 415.60H1022" stroke="rgb(39,39,39)"/><path d="M1107 415.60H1134" stroke="rgb(39,39,39)"/><path d="M1218 415.60H1248" stroke="rgb(39,39,39)"/><path d="M1326 415.60H1359" stroke="rgb(39,39,39)"/><path d="M1437 415.60H1463" stroke="rgb(39,39,39)"/><path d="M591 415.60H666" stroke="rgb(55,55,55)"/><path d="M700 415.60H778" stroke="rgb(59,59,59)"/><path d="M801 415.60H885" stroke="rgb(55,55,55)"/><path d="M921 415.60H997" stroke="rgb(53,53,53)"/><path d="M1022 415.60H1107" stroke="rgb(59,59,59)"/><path d="M1031.0 415.60H1098.0" stroke="rgb(12,12,12)" stroke-width="34.00"/><path d="M1028.0 415.60H1101.0" stroke="rgb(18,18,18)"/><path d="M1134 415.60H1218" stroke="rgb(59,59,59)"/><path d="M1143.0 415.60H1209.0" stroke="rgb(7,7,7)" stroke-width="34.00"/><path d="M1168.0 415.60H1184.0" stroke="rgb(22,22,22)"/><path d="M1248 415.60H1326" stroke="rgb(59,59,59)"/><path d="M1257.0 415.60H1317.0" stroke="rgb(13,13,13)" stroke-width="34.00"/><path d="M1254.0 415.60H1320.0" stroke="rgb(20,20,20)"/><path d="M1359 415.60H1437" stroke="rgb(59,59,59)"/><path d="M1368.0 415.60H1428.0" stroke="rgb(9,9,9)" stroke-width="34.00"/><path d="M1384.0 415.60H1412.0" stroke="rgb(17,17,17)"/><path d="M1463 415.60H1546" stroke="rgb(59,59,59)"/><path d="M1476.0 415.60H1541.0" stroke="rgb(6,6,6)" stroke-width="34.00"/><path d="M1500.5 415.60H1516.5" stroke="rgb(20,20,20)"/></g>
<g filter="url(#h11)" class="hm" stroke-width="13.60"><rect x="205" y="402.8" width="280" height="62.6" fill="#000" stroke="none"/><path d="M329 434.10H364" stroke="rgb(33,33,33)"/><path d="M266 434.10H329" stroke="rgb(59,59,59)"/><path d="M275.0 434.10H320.0" stroke="rgb(12,12,12)" stroke-width="27.20"/><path d="M272.0 434.10H323.0" stroke="rgb(18,18,18)"/><path d="M364 434.10H424" stroke="rgb(60,60,60)"/><path d="M373.0 434.10H415.0" stroke="rgb(12,12,12)" stroke-width="27.20"/><path d="M370.0 434.10H418.0" stroke="rgb(18,18,18)"/></g>
<g filter="url(#h12)" class="hm" stroke-width="17.20"><rect x="1783" y="428.1" width="465" height="79.1" fill="#000" stroke="none"/><path d="M1914 467.70H1940" stroke="rgb(39,39,39)"/><path d="M2002 467.70H2022" stroke="rgb(39,39,39)"/><path d="M2085 467.70H2120" stroke="rgb(39,39,39)"/><path d="M1844 467.70H1914" stroke="rgb(59,59,59)"/><path d="M1853.0 467.70H1905.0" stroke="rgb(13,13,13)" stroke-width="34.40"/><path d="M1850.0 467.70H1908.0" stroke="rgb(19,19,19)"/><path d="M1940 467.70H2002" stroke="rgb(59,59,59)"/><path d="M1949.0 467.70H1993.0" stroke="rgb(8,8,8)" stroke-width="34.40"/><path d="M1963.0 467.70H1979.0" stroke="rgb(22,22,22)"/><path d="M2022 467.70H2085" stroke="rgb(59,59,59)"/><path d="M2031.0 467.70H2076.0" stroke="rgb(12,12,12)" stroke-width="34.40"/><path d="M2028.0 467.70H2079.0" stroke="rgb(18,18,18)"/><path d="M2120 467.70H2187" stroke="rgb(59,59,59)"/><path d="M2129.0 467.70H2178.0" stroke="rgb(3,3,3)" stroke-width="34.40"/><path d="M2139.5 467.70H2167.5" stroke="rgb(6,6,6)"/></g>
<g filter="url(#h13)" class="hm" stroke-width="15.60"><rect x="101" y="476.2" width="962" height="71.8" fill="#000" stroke="none"/><path d="M239 512.10H272" stroke="rgb(20,20,20)"/><path d="M347 512.10H381" stroke="rgb(20,20,20)"/><path d="M457 512.10H489" stroke="rgb(20,20,20)"/><path d="M567 512.10H599" stroke="rgb(20,20,20)"/><path d="M675 512.10H709" stroke="rgb(20,20,20)"/><path d="M784 512.10H819" stroke="rgb(20,20,20)"/><path d="M894 512.10H926" stroke="rgb(20,20,20)"/><path d="M162 512.10H239" stroke="rgb(49,49,49)"/><path d="M272 512.10H347" stroke="rgb(47,47,47)"/><path d="M381 512.10H457" stroke="rgb(49,49,49)"/><path d="M489 512.10H567" stroke="rgb(52,52,52)"/><path d="M599 512.10H675" stroke="rgb(59,59,59)"/><path d="M608.0 512.10H666.0" stroke="rgb(4,4,4)" stroke-width="31.20"/><path d="M629.0 512.10H645.0" stroke="rgb(13,13,13)"/><path d="M709 512.10H784" stroke="rgb(59,59,59)"/><path d="M718.0 512.10H775.0" stroke="rgb(12,12,12)" stroke-width="31.20"/><path d="M738.5 512.10H754.5" stroke="rgb(35,35,35)"/><path d="M819 512.10H894" stroke="rgb(59,59,59)"/><path d="M828.0 512.10H885.0" stroke="rgb(11,11,11)" stroke-width="31.20"/><path d="M848.5 512.10H864.5" stroke="rgb(33,33,33)"/><path d="M926 512.10H1002" stroke="rgb(59,59,59)"/><path d="M935.0 512.10H993.0" stroke="rgb(13,13,13)" stroke-width="31.20"/><path d="M956.0 512.10H972.0" stroke="rgb(39,39,39)"/></g>
<g filter="url(#h14)" class="hm" stroke-width="20.80"><rect x="1184" y="467.9" width="646" height="95.7" fill="#000" stroke="none"/><path d="M1325 515.70H1357" stroke="rgb(39,39,39)"/><path d="M1437 515.70H1471" stroke="rgb(39,39,39)"/><path d="M1547 515.70H1581" stroke="rgb(39,39,39)"/><path d="M1658 515.70H1686" stroke="rgb(39,39,39)"/><path d="M1245 515.70H1325" stroke="rgb(49,49,49)"/><path d="M1357 515.70H1437" stroke="rgb(59,59,59)"/><path d="M1366.0 515.70H1428.0" stroke="rgb(6,6,6)" stroke-width="41.60"/><path d="M1389.0 515.70H1405.0" stroke="rgb(17,17,17)"/><path d="M1471 515.70H1547" stroke="rgb(59,59,59)"/><path d="M1492.0 515.70H1550.0" stroke="rgb(1,1,1)" stroke-width="41.60"/><path d="M1507.0 515.70H1535.0" stroke="rgb(3,3,3)"/><path d="M1581 515.70H1658" stroke="rgb(59,59,59)"/><path d="M1590.0 515.70H1649.0" stroke="rgb(7,7,7)" stroke-width="41.60"/><path d="M1605.5 515.70H1633.5" stroke="rgb(14,14,14)"/><path d="M1686 515.70H1769" stroke="rgb(59,59,59)"/><path d="M1695.0 515.70H1760.0" stroke="rgb(13,13,13)" stroke-width="41.60"/><path d="M1692.0 515.70H1763.0" stroke="rgb(19,19,19)"/></g>
<g fill="none" stroke="#1d5e44" stroke-width="1.3">
<rect x="205" y="118.50" width="71" height="16" rx="8.0" stroke-opacity="0.5"/>
<rect x="306" y="118.50" width="68" height="16" rx="8.0" stroke-opacity="0.7"/>
<rect x="406" y="118.50" width="68" height="16" rx="8.0" stroke-opacity="0.7"/>
<rect x="505" y="118.50" width="66" height="16" rx="8.0" stroke-opacity="0.5"/>
<rect x="601" y="118.50" width="71" height="16" rx="8.0" stroke-opacity="0.22"/>
<path d="M276 126.5H306M298 122.5L306 126.5L298 130.5" stroke-width="1.1" stroke-opacity="0.6"/>
<path d="M374 126.5H406M398 122.5L406 126.5L398 130.5" stroke-width="1.1" stroke-opacity="0.6"/>
<path d="M474 126.5H505M497 122.5L505 126.5L497 130.5" stroke-width="1.1" stroke-opacity="0.6"/>
<path d="M571 126.5H601M593 122.5L601 126.5L593 130.5" stroke-width="1.1" stroke-opacity="0.6"/>
<rect x="860" y="100.15" width="76" height="17.7" rx="8.85" stroke-opacity="0.7"/>
<rect x="965" y="100.15" width="75" height="17.7" rx="8.85" stroke-opacity="0.7"/>
<rect x="1069" y="100.15" width="74" height="17.7" rx="8.85" stroke-opacity="0.7"/>
<rect x="1174" y="100.15" width="73" height="17.7" rx="8.85" stroke-opacity="0.7"/>
<rect x="1278" y="100.15" width="73" height="17.7" rx="8.85" stroke-opacity="0.7"/>
<rect x="1380" y="100.15" width="75" height="17.7" rx="8.85" stroke-opacity="0.7"/>
<rect x="1485" y="100.15" width="74" height="17.7" rx="8.85" stroke-opacity="0.7"/>
<rect x="1589" y="100.15" width="76" height="17.7" rx="8.85" stroke-opacity="0.5"/>
<rect x="1694" y="100.15" width="75" height="17.7" rx="8.85" stroke-opacity="0.22"/>
<rect x="1799" y="100.15" width="72" height="17.7" rx="8.85" stroke-opacity="0.35"/>
<rect x="1898" y="100.15" width="75" height="17.7" rx="8.85" stroke-opacity="0.35"/>
<rect x="2000" y="100.15" width="75" height="17.7" rx="8.85" stroke-opacity="0.5"/>
<path d="M936 109H965M957 105L965 109L957 113" stroke-width="1.1" stroke-opacity="0.6"/>
<path d="M1040 109H1069M1061 105L1069 109L1061 113" stroke-width="1.1" stroke-opacity="0.6"/>
<path d="M1143 109H1174M1166 105L1174 109L1166 113" stroke-width="1.1" stroke-opacity="0.6"/>
<path d="M1247 109H1278M1270 105L1278 109L1270 113" stroke-width="1.1" stroke-opacity="0.6"/>
<path d="M1351 109H1380M1372 105L1380 109L1372 113" stroke-width="1.1" stroke-opacity="0.6"/>
<path d="M1455 109H1485M1477 105L1485 109L1477 113" stroke-width="1.1" stroke-opacity="0.6"/>
<path d="M1559 109H1589M1581 105L1589 109L1581 113" stroke-width="1.1" stroke-opacity="0.6"/>
<path d="M1665 109H1694M1686 105L1694 109L1686 113" stroke-width="1.1" stroke-opacity="0.6"/>
<path d="M1769 109H1799M1791 105L1799 109L1791 113" stroke-width="1.1" stroke-opacity="0.6"/>
<path d="M1871 109H1898M1890 105L1898 109L1890 113" stroke-width="1.1" stroke-opacity="0.6"/>
<path d="M1973 109H2000M1992 105L2000 109L1992 113" stroke-width="1.1" stroke-opacity="0.6"/>
<rect x="372" y="196.50" width="74" height="15" rx="7.5" stroke-opacity="0.35"/>
<rect x="476" y="196.50" width="71" height="15" rx="7.5" stroke-opacity="0.35"/>
<rect x="578" y="196.50" width="72" height="15" rx="7.5" stroke-opacity="0.22"/>
<path d="M446 204H476M468 200L476 204L468 208" stroke-width="1.1" stroke-opacity="0.6"/>
<path d="M547 204H578M570 200L578 204L570 208" stroke-width="1.1" stroke-opacity="0.6"/>
<rect x="750" y="197.95" width="87" height="15.7" rx="7.85" stroke-opacity="0.7"/>
<rect x="868" y="197.95" width="85" height="15.7" rx="7.85" stroke-opacity="0.7"/>
<rect x="982" y="197.95" width="88" height="15.7" rx="7.85" stroke-opacity="0.22"/>
<rect x="1103" y="197.95" width="83" height="15.7" rx="7.85" stroke-opacity="0.35"/>
<rect x="1217" y="197.95" width="87" height="15.7" rx="7.85" stroke-opacity="0.5"/>
<path d="M837 205.8H868M860 201.8L868 205.8L860 209.8" stroke-width="1.1" stroke-opacity="0.6"/>
<path d="M953 205.8H982M974 201.8L982 205.8L974 209.8" stroke-width="1.1" stroke-opacity="0.6"/>
<path d="M1070 205.8H1103M1095 201.8L1103 205.8L1095 209.8" stroke-width="1.1" stroke-opacity="0.6"/>
<path d="M1186 205.8H1217M1209 201.8L1217 205.8L1209 209.8" stroke-width="1.1" stroke-opacity="0.6"/>
<rect x="1472" y="186.50" width="81" height="23" rx="11.5" stroke-opacity="0.35"/>
<rect x="1586" y="186.50" width="80" height="23" rx="11.5" stroke-opacity="0.7"/>
<rect x="1699" y="186.50" width="79" height="23" rx="11.5" stroke-opacity="0.7"/>
<rect x="1808" y="186.50" width="93" height="23" rx="11.5" stroke-opacity="0.22"/>
<rect x="1920" y="186.50" width="80" height="23" rx="11.5" stroke-opacity="0.22"/>
<rect x="2031" y="186.50" width="81" height="23" rx="11.5" stroke-opacity="0.35"/>
<rect x="2143" y="186.50" width="80" height="23" rx="11.5" stroke-opacity="0.22"/>
<path d="M1553 198H1586M1578 194L1586 198L1578 202" stroke-width="1.1" stroke-opacity="0.6"/>
<path d="M1666 198H1699M1691 194L1699 198L1691 202" stroke-width="1.1" stroke-opacity="0.6"/>
<path d="M1778 198H1808M1800 194L1808 198L1800 202" stroke-width="1.1" stroke-opacity="0.6"/>
<path d="M1901 198H1920M1912 194L1920 198L1912 202" stroke-width="1.1" stroke-opacity="0.6"/>
<path d="M2000 198H2031M2023 194L2031 198L2023 202" stroke-width="1.1" stroke-opacity="0.6"/>
<path d="M2112 198H2143M2135 194L2143 198L2135 202" stroke-width="1.1" stroke-opacity="0.6"/>
<rect x="202" y="300.35" width="66" height="14.5" rx="7.25" stroke-opacity="0.35"/>
<rect x="299" y="300.35" width="66" height="14.5" rx="7.25" stroke-opacity="0.7"/>
<rect x="390" y="300.35" width="68" height="14.5" rx="7.25" stroke-opacity="0.35"/>
<rect x="482" y="300.35" width="75" height="14.5" rx="7.25" stroke-opacity="0.22"/>
<path d="M268 307.6H299M291 303.6L299 307.6L291 311.6" stroke-width="1.1" stroke-opacity="0.6"/>
<path d="M365 307.6H390M382 303.6L390 307.6L382 311.6" stroke-width="1.1" stroke-opacity="0.6"/>
<path d="M458 307.6H482M474 303.6L482 307.6L474 311.6" stroke-width="1.1" stroke-opacity="0.6"/>
<rect x="739" y="323.50" width="78" height="15" rx="7.5" stroke-opacity="0.7"/>
<rect x="838" y="323.50" width="77" height="15" rx="7.5" stroke-opacity="0.22"/>
<path d="M817 331H838M830 327L838 331L830 335" stroke-width="1.1" stroke-opacity="0.6"/>
<rect x="1062" y="302.50" width="74" height="18" rx="9.0" stroke-opacity="0.7"/>
<rect x="1162" y="302.50" width="71" height="18" rx="9.0" stroke-opacity="0.7"/>
<rect x="1262" y="302.50" width="74" height="18" rx="9.0" stroke-opacity="0.7"/>
<rect x="1366" y="302.50" width="67" height="18" rx="9.0" stroke-opacity="0.35"/>
<rect x="1461" y="302.50" width="71" height="18" rx="9.0" stroke-opacity="0.22"/>
<path d="M1136 311.5H1162M1154 307.5L1162 311.5L1154 315.5" stroke-width="1.1" stroke-opacity="0.6"/>
<path d="M1233 311.5H1262M1254 307.5L1262 311.5L1254 315.5" stroke-width="1.1" stroke-opacity="0.6"/>
<path d="M1336 311.5H1366M1358 307.5L1366 311.5L1358 315.5" stroke-width="1.1" stroke-opacity="0.6"/>
<path d="M1433 311.5H1461M1453 307.5L1461 311.5L1453 315.5" stroke-width="1.1" stroke-opacity="0.6"/>
<rect x="1789" y="274.80" width="66" height="14" rx="7.0" stroke-opacity="0.35"/>
<rect x="1874" y="274.80" width="61" height="14" rx="7.0" stroke-opacity="0.35"/>
<rect x="1955" y="274.80" width="59" height="14" rx="7.0" stroke-opacity="0.5"/>
<rect x="2029" y="274.80" width="62" height="14" rx="7.0" stroke-opacity="0.22"/>
<path d="M1855 281.8H1874M1866 277.8L1874 281.8L1866 285.8" stroke-width="1.1" stroke-opacity="0.6"/>
<path d="M1935 281.8H1955M1947 277.8L1955 281.8L1947 285.8" stroke-width="1.1" stroke-opacity="0.6"/>
<path d="M2014 281.8H2029M2021 277.8L2029 281.8L2021 285.8" stroke-width="1.1" stroke-opacity="0.6"/>
<rect x="1670" y="359.80" width="57" height="18" rx="9.0" stroke-opacity="0.7"/>
<rect x="1742" y="359.80" width="59" height="18" rx="9.0" stroke-opacity="0.35"/>
<rect x="1821" y="359.80" width="59" height="18" rx="9.0" stroke-opacity="0.22"/>
<rect x="1903" y="359.80" width="58" height="18" rx="9.0" stroke-opacity="0.35"/>
<rect x="1985" y="359.80" width="56" height="18" rx="9.0" stroke-opacity="0.35"/>
<rect x="2057" y="359.80" width="61" height="18" rx="9.0" stroke-opacity="0.22"/>
<path d="M1727 368.8H1742M1734 364.8L1742 368.8L1734 372.8" stroke-width="1.1" stroke-opacity="0.6"/>
<path d="M1801 368.8H1821M1813 364.8L1821 368.8L1813 372.8" stroke-width="1.1" stroke-opacity="0.6"/>
<path d="M1880 368.8H1903M1895 364.8L1903 368.8L1895 372.8" stroke-width="1.1" stroke-opacity="0.6"/>
<path d="M1961 368.8H1985M1977 364.8L1985 368.8L1977 372.8" stroke-width="1.1" stroke-opacity="0.6"/>
<path d="M2041 368.8H2057M2049 364.8L2057 368.8L2049 372.8" stroke-width="1.1" stroke-opacity="0.6"/>
<rect x="590" y="407.00" width="77" height="15" rx="7.5" stroke-opacity="0.7"/>
<rect x="699" y="407.00" width="80" height="15" rx="7.5" stroke-opacity="0.7"/>
<rect x="800" y="407.00" width="86" height="15" rx="7.5" stroke-opacity="0.7"/>
<rect x="920" y="407.00" width="78" height="15" rx="7.5" stroke-opacity="0.7"/>
<rect x="1021" y="407.00" width="87" height="15" rx="7.5" stroke-opacity="0.22"/>
<rect x="1133" y="407.00" width="86" height="15" rx="7.5" stroke-opacity="0.35"/>
<rect x="1247" y="407.00" width="80" height="15" rx="7.5" stroke-opacity="0.22"/>
<rect x="1358" y="407.00" width="80" height="15" rx="7.5" stroke-opacity="0.35"/>
<rect x="1462" y="407.00" width="85" height="15" rx="7.5" stroke-opacity="0.35"/>
<path d="M667 414.5H699M691 410.5L699 414.5L691 418.5" stroke-width="1.1" stroke-opacity="0.6"/>
<path d="M779 414.5H800M792 410.5L800 414.5L792 418.5" stroke-width="1.1" stroke-opacity="0.6"/>
<path d="M886 414.5H920M912 410.5L920 414.5L912 418.5" stroke-width="1.1" stroke-opacity="0.6"/>
<path d="M998 414.5H1021M1013 410.5L1021 414.5L1013 418.5" stroke-width="1.1" stroke-opacity="0.6"/>
<path d="M1108 414.5H1133M1125 410.5L1133 414.5L1125 418.5" stroke-width="1.1" stroke-opacity="0.6"/>
<path d="M1219 414.5H1247M1239 410.5L1247 414.5L1239 418.5" stroke-width="1.1" stroke-opacity="0.6"/>
<path d="M1327 414.5H1358M1350 410.5L1358 414.5L1350 418.5" stroke-width="1.1" stroke-opacity="0.6"/>
<path d="M1438 414.5H1462M1454 410.5L1462 414.5L1454 418.5" stroke-width="1.1" stroke-opacity="0.6"/>
<rect x="265" y="425.50" width="65" height="15" rx="7.5" stroke-opacity="0.22"/>
<rect x="363" y="425.50" width="62" height="15" rx="7.5" stroke-opacity="0.22"/>
<path d="M330 433H363M355 429L363 433L355 437" stroke-width="1.1" stroke-opacity="0.6"/>
<rect x="1843" y="458.60" width="72" height="16" rx="8.0" stroke-opacity="0.22"/>
<rect x="1939" y="458.60" width="64" height="16" rx="8.0" stroke-opacity="0.35"/>
<rect x="2021" y="458.60" width="65" height="16" rx="8.0" stroke-opacity="0.22"/>
<rect x="2119" y="458.60" width="69" height="16" rx="8.0" stroke-opacity="0.5"/>
<path d="M1915 466.6H1939M1931 462.6L1939 466.6L1931 470.6" stroke-width="1.1" stroke-opacity="0.6"/>
<path d="M2003 466.6H2021M2013 462.6L2021 466.6L2013 470.6" stroke-width="1.1" stroke-opacity="0.6"/>
<path d="M2086 466.6H2119M2111 462.6L2119 466.6L2111 470.6" stroke-width="1.1" stroke-opacity="0.6"/>
<rect x="161" y="503.75" width="79" height="14.5" rx="7.25" stroke-opacity="0.7"/>
<rect x="271" y="503.75" width="77" height="14.5" rx="7.25" stroke-opacity="0.7"/>
<rect x="380" y="503.75" width="78" height="14.5" rx="7.25" stroke-opacity="0.7"/>
<rect x="488" y="503.75" width="80" height="14.5" rx="7.25" stroke-opacity="0.7"/>
<rect x="598" y="503.75" width="78" height="14.5" rx="7.25" stroke-opacity="0.5"/>
<rect x="708" y="503.75" width="77" height="14.5" rx="7.25" stroke-opacity="0.22"/>
<rect x="818" y="503.75" width="77" height="14.5" rx="7.25" stroke-opacity="0.22"/>
<rect x="925" y="503.75" width="78" height="14.5" rx="7.25" stroke-opacity="0.22"/>
<path d="M240 511H271M263 507L271 511L263 515" stroke-width="1.1" stroke-opacity="0.6"/>
<path d="M348 511H380M372 507L380 511L372 515" stroke-width="1.1" stroke-opacity="0.6"/>
<path d="M458 511H488M480 507L488 511L480 515" stroke-width="1.1" stroke-opacity="0.6"/>
<path d="M568 511H598M590 507L598 511L590 515" stroke-width="1.1" stroke-opacity="0.6"/>
<path d="M676 511H708M700 507L708 511L700 515" stroke-width="1.1" stroke-opacity="0.6"/>
<path d="M785 511H818M810 507L818 511L810 515" stroke-width="1.1" stroke-opacity="0.6"/>
<path d="M895 511H925M917 507L925 511L917 515" stroke-width="1.1" stroke-opacity="0.6"/>
<rect x="1244" y="504.60" width="82" height="20" rx="10.0" stroke-opacity="0.7"/>
<rect x="1356" y="504.60" width="82" height="20" rx="10.0" stroke-opacity="0.35"/>
<rect x="1470" y="504.60" width="78" height="20" rx="10.0" stroke-opacity="0.5"/>
<rect x="1580" y="504.60" width="79" height="20" rx="10.0" stroke-opacity="0.35"/>
<rect x="1685" y="504.60" width="85" height="20" rx="10.0" stroke-opacity="0.22"/>
<path d="M1326 514.6H1356M1348 510.6L1356 514.6L1348 518.6" stroke-width="1.1" stroke-opacity="0.6"/>
<path d="M1438 514.6H1470M1462 510.6L1470 514.6L1462 518.6" stroke-width="1.1" stroke-opacity="0.6"/>
<path d="M1548 514.6H1580M1572 510.6L1580 514.6L1572 518.6" stroke-width="1.1" stroke-opacity="0.6"/>
<path d="M1659 514.6H1685M1677 510.6L1685 514.6L1677 518.6" stroke-width="1.1" stroke-opacity="0.6"/>
</g>
<g class="lab">
<text x="179.5" y="99.5" textLength="66" lengthAdjust="spacingAndGlyphs">5562</text>
<text x="826.5" y="83.5" textLength="80" lengthAdjust="spacingAndGlyphs">21858</text>
<text x="342.5" y="192.5" textLength="83" lengthAdjust="spacingAndGlyphs">17947</text>
<text x="711.5" y="176.5" textLength="70" lengthAdjust="spacingAndGlyphs">4260</text>
<text x="1429.5" y="175" textLength="83" lengthAdjust="spacingAndGlyphs">25651</text>
<text x="162.5" y="289.5" textLength="84" lengthAdjust="spacingAndGlyphs">24555</text>
<text x="712.5" y="307.5" textLength="83" lengthAdjust="spacingAndGlyphs">34374</text>
<text x="1028.5" y="289.5" textLength="84" lengthAdjust="spacingAndGlyphs">34246</text>
<text x="1737.5" y="265.5" textLength="83" lengthAdjust="spacingAndGlyphs">37690</text>
<text x="1654.5" y="346.5" textLength="84" lengthAdjust="spacingAndGlyphs">15898</text>
<text x="553.5" y="396" textLength="83" lengthAdjust="spacingAndGlyphs">29758</text>
<text x="215.5" y="412" textLength="82.5" lengthAdjust="spacingAndGlyphs">34370</text>
<text x="1781.5" y="435.5" textLength="66" lengthAdjust="spacingAndGlyphs">7974</text>
<text x="148.0" y="493" textLength="83.0" lengthAdjust="spacingAndGlyphs">17858</text>
<text x="1226.5" y="493" textLength="80" lengthAdjust="spacingAndGlyphs">37130</text>
</g>
<g class="cap">
<text x="23.48" y="674" textLength="121.04" lengthAdjust="spacingAndGlyphs">Figure</text>
<text x="153.10" y="674" textLength="36.29" lengthAdjust="spacingAndGlyphs">6:</text>
<text x="196.99" y="674" textLength="249.52" lengthAdjust="spacingAndGlyphs">Visualization</text>
<text x="455.86" y="674" textLength="41.12" lengthAdjust="spacingAndGlyphs">of</text>
<text x="505.96" y="674" textLength="104.10" lengthAdjust="spacingAndGlyphs">items</text>
<text x="622.99" y="674" textLength="155.06" lengthAdjust="spacingAndGlyphs">weights.</text>
<text x="786.43" y="674" textLength="74.69" lengthAdjust="spacingAndGlyphs">The</text>
<text x="869.41" y="674" textLength="111.12" lengthAdjust="spacingAndGlyphs">depth</text>
<text x="987.80" y="674" textLength="41.75" lengthAdjust="spacingAndGlyphs">of</text>
<text x="1036.43" y="674" textLength="63.64" lengthAdjust="spacingAndGlyphs">the</text>
<text x="1109.43" y="674" textLength="97.62" lengthAdjust="spacingAndGlyphs">color</text>
<text x="1215.46" y="674" textLength="231.06" lengthAdjust="spacingAndGlyphs">corresponds</text>
<text x="1455.86" y="674" textLength="40.82" lengthAdjust="spacingAndGlyphs">to</text>
<text x="1503.47" y="674" textLength="63.59" lengthAdjust="spacingAndGlyphs">the</text>
<text x="1576.48" y="674" textLength="218.05" lengthAdjust="spacingAndGlyphs">importance</text>
<text x="1802.84" y="674" textLength="42.19" lengthAdjust="spacingAndGlyphs">of</text>
<text x="1851.96" y="674" textLength="104.59" lengthAdjust="spacingAndGlyphs">items</text>
<text x="1965.96" y="674" textLength="106.10" lengthAdjust="spacingAndGlyphs">given</text>
<text x="2078.91" y="674" textLength="47.17" lengthAdjust="spacingAndGlyphs">by</text>
<text x="2136.46" y="674" textLength="169.57" lengthAdjust="spacingAndGlyphs">equation</text>
<text x="2313.29" y="674" textLength="60.41" lengthAdjust="spacingAndGlyphs">(7).</text>
<text x="21.44" y="725" textLength="73.62" lengthAdjust="spacingAndGlyphs">The</text>
<text x="105.96" y="725" textLength="167.58" lengthAdjust="spacingAndGlyphs">numbers</text>
<text x="282.94" y="725" textLength="108.60" lengthAdjust="spacingAndGlyphs">above</text>
<text x="402.96" y="725" textLength="61.11" lengthAdjust="spacingAndGlyphs">the</text>
<text x="472.95" y="725" textLength="155.09" lengthAdjust="spacingAndGlyphs">sessions</text>
<text x="637.36" y="725" textLength="30.82" lengthAdjust="spacingAndGlyphs">is</text>
<text x="678.95" y="725" textLength="62.13" lengthAdjust="spacingAndGlyphs">the</text>
<text x="750.43" y="725" textLength="137.62" lengthAdjust="spacingAndGlyphs">session</text>
<text x="895.85" y="725" textLength="77.30" lengthAdjust="spacingAndGlyphs">IDs.</text>
<text x="979.43" y="725" textLength="94.60" lengthAdjust="spacingAndGlyphs">(Best</text>
<text x="1085.99" y="725" textLength="130.02" lengthAdjust="spacingAndGlyphs">viewed</text>
<text x="1226.41" y="725" textLength="38.66" lengthAdjust="spacingAndGlyphs">in</text>
<text x="1274.44" y="725" textLength="119.67" lengthAdjust="spacingAndGlyphs">color.)</text>
</g>
</svg>
</body></html>
